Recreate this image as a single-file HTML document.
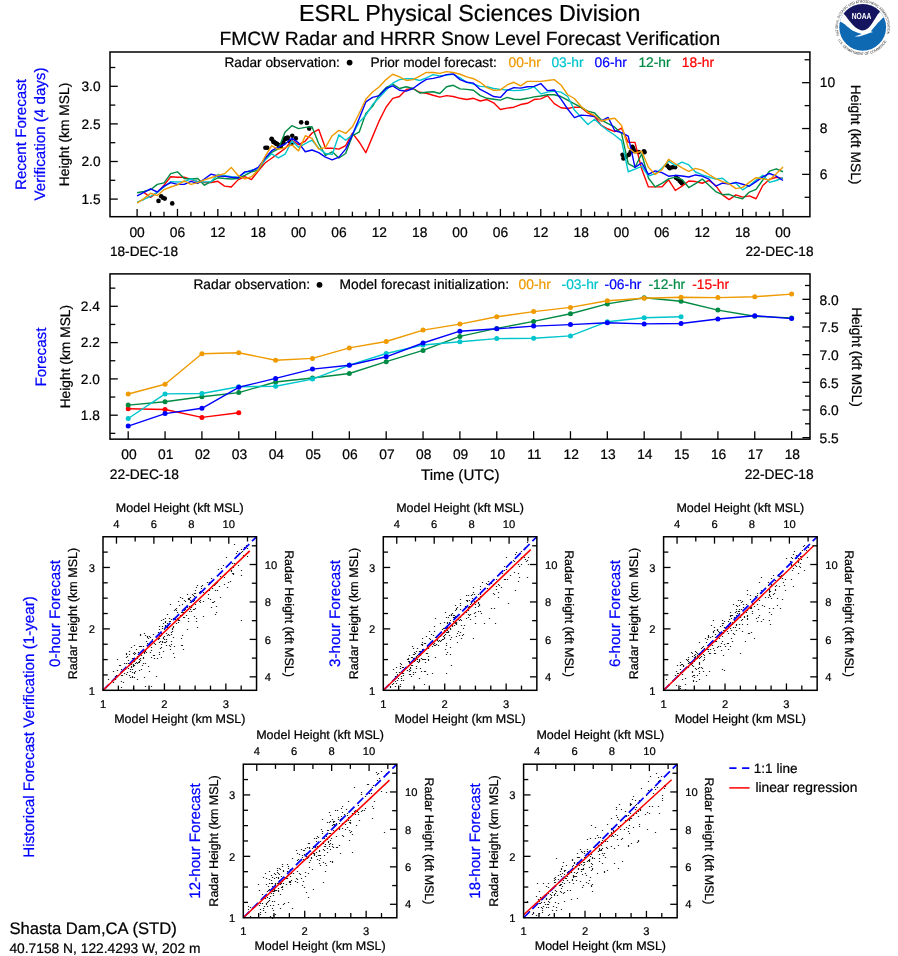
<!DOCTYPE html>
<html lang="en"><head><meta charset="utf-8"><title>FMCW Radar and HRRR Snow Level Forecast Verification</title>
<style>
html,body{margin:0;padding:0;background:#fff;}
svg{display:block;font-family:"Liberation Sans", Arial, Helvetica, sans-serif;will-change:transform;text-rendering:geometricPrecision;}
</style></head><body>
<svg width="898" height="956" viewBox="0 0 898 956">
<rect width="898" height="956" fill="#fff"/>
<text x="469.7" y="20.7" font-size="23.25" text-anchor="middle" fill="#000" stroke="#000" stroke-width="0.22">ESRL Physical Sciences Division</text>
<text x="469.9" y="44.5" font-size="19.25" text-anchor="middle" fill="#000" stroke="#000" stroke-width="0.22">FMCW Radar and HRRR Snow Level Forecast Verification</text>
<g id="noaa">
<defs><clipPath id="lc"><circle cx="862.68" cy="27.28" r="23.4"/></clipPath>
<path id="arcTop" d="M 839.33 35.32 A 24.7 24.7 0 1 1 886.04 35.32" fill="none"/>
<path id="arcBot" d="M 838 39.86 A 27.7 27.7 0 0 0 887.37 39.86" fill="none"/>
</defs>
<circle cx="862.68" cy="27.28" r="23.4" fill="#0F68B2"/>
<g clip-path="url(#lc)">
<path d="M 835.79 20.27 C836.44 20.46 838.39 20.91 839.69 21.43C840.99 21.95 842.16 22.41 843.59 23.38C845.02 24.36 846.71 26.05 848.27 27.28C849.82 28.51 851.38 29.88 852.94 30.79C854.5 31.7 856.19 32.22 857.62 32.74C859.05 33.26 861.32 33.52 861.52 33.9C861.71 34.29 859.83 34.62 858.79 35.07C857.75 35.53 855.08 36.43 855.28 36.63C855.47 36.84 858.4 36.62 859.96 36.32C861.52 36.02 863.14 35.37 864.63 34.84C866.13 34.31 867.56 33.61 868.92 33.13C870.28 32.64 872.45 32.28 872.82 31.96C873.18 31.63 870.88 31.96 871.1 31.18C871.32 30.4 873.1 28.58 874.14 27.28C875.18 25.98 876.23 24.62 877.34 23.38C878.44 22.15 879.7 20.85 880.77 19.88C881.83 18.9 882.39 18.38 883.73 17.54C885.07 16.69 887.95 15.26 888.8 14.81 L 892.68 -2.72 L 832.68 -2.72 Z" fill="#fff"/>
<path d="M 839.69 11.69 C840.41 12.08 842.55 12.73 843.98 14.03C845.41 15.33 846.77 17.67 848.27 19.49C849.76 21.3 851.38 23.38 852.94 24.94C854.5 26.5 856.06 27.93 857.62 28.84C859.18 29.75 860.61 30.46 862.29 30.4C863.98 30.33 866 29.81 867.75 28.45C869.5 27.08 871.32 24.29 872.82 22.21C874.31 20.14 875.54 17.67 876.71 15.98C877.88 14.29 878.6 13.45 879.83 12.08C881.07 10.72 883.4 8.51 884.12 7.79 L 892.68 -2.72 L 832.68 -2.72 Z" fill="#15145E"/>
</g>
<text x="861.52" y="19.1" font-size="8.8" font-weight="bold" text-anchor="middle" fill="#fff" textLength="19.6" lengthAdjust="spacingAndGlyphs">NOAA</text>
<text font-size="3.7" fill="#2a2a2a" textLength="92" lengthAdjust="spacingAndGlyphs"><textPath href="#arcTop" textLength="92" lengthAdjust="spacingAndGlyphs">NATIONAL OCEANIC AND ATMOSPHERIC ADMINISTRATION</textPath></text>
<text font-size="3.7" fill="#2a2a2a" textLength="59" lengthAdjust="spacingAndGlyphs"><textPath href="#arcBot" textLength="59" lengthAdjust="spacingAndGlyphs">U.S. DEPARTMENT OF COMMERCE</textPath></text>
</g>
<g id="chart1">
<rect x="110" y="52" width="699.9" height="164.7" fill="none" stroke="#000" stroke-width="1.5"/>
<line x1="110" y1="199.1" x2="117.8" y2="199.1" stroke="#000" stroke-width="1.3"/>
<text x="100.5" y="203.8" font-size="13.7" text-anchor="end" fill="#000" stroke="#000" stroke-width="0.22">1.5</text>
<line x1="110" y1="180.3" x2="115.3" y2="180.3" stroke="#000" stroke-width="1.3"/>
<line x1="110" y1="161.5" x2="117.8" y2="161.5" stroke="#000" stroke-width="1.3"/>
<text x="100.5" y="166.2" font-size="13.7" text-anchor="end" fill="#000" stroke="#000" stroke-width="0.22">2.0</text>
<line x1="110" y1="142.7" x2="115.3" y2="142.7" stroke="#000" stroke-width="1.3"/>
<line x1="110" y1="123.9" x2="117.8" y2="123.9" stroke="#000" stroke-width="1.3"/>
<text x="100.5" y="128.6" font-size="13.7" text-anchor="end" fill="#000" stroke="#000" stroke-width="0.22">2.5</text>
<line x1="110" y1="105.1" x2="115.3" y2="105.1" stroke="#000" stroke-width="1.3"/>
<line x1="110" y1="86.3" x2="117.8" y2="86.3" stroke="#000" stroke-width="1.3"/>
<text x="100.5" y="91" font-size="13.7" text-anchor="end" fill="#000" stroke="#000" stroke-width="0.22">3.0</text>
<line x1="110" y1="67.5" x2="115.3" y2="67.5" stroke="#000" stroke-width="1.3"/>
<line x1="809.9" y1="197.3" x2="804.6" y2="197.3" stroke="#000" stroke-width="1.3"/>
<line x1="809.9" y1="174.37" x2="802.1" y2="174.37" stroke="#000" stroke-width="1.3"/>
<text x="819.8" y="178.97" font-size="13.8" text-anchor="start" fill="#000" stroke="#000" stroke-width="0.22">6</text>
<line x1="809.9" y1="151.45" x2="804.6" y2="151.45" stroke="#000" stroke-width="1.3"/>
<line x1="809.9" y1="128.53" x2="802.1" y2="128.53" stroke="#000" stroke-width="1.3"/>
<text x="819.8" y="133.13" font-size="13.8" text-anchor="start" fill="#000" stroke="#000" stroke-width="0.22">8</text>
<line x1="809.9" y1="105.61" x2="804.6" y2="105.61" stroke="#000" stroke-width="1.3"/>
<line x1="809.9" y1="82.69" x2="802.1" y2="82.69" stroke="#000" stroke-width="1.3"/>
<text x="819.8" y="87.29" font-size="13.8" text-anchor="start" fill="#000" stroke="#000" stroke-width="0.22">10</text>
<line x1="809.9" y1="59.77" x2="804.6" y2="59.77" stroke="#000" stroke-width="1.3"/>
<line x1="137.1" y1="216.7" x2="137.1" y2="208.9" stroke="#000" stroke-width="1.3"/>
<text x="137.1" y="236.9" font-size="13.8" text-anchor="middle" fill="#000" stroke="#000" stroke-width="0.22">00</text>
<line x1="150.56" y1="216.7" x2="150.56" y2="211.7" stroke="#000" stroke-width="1.3"/>
<line x1="164.01" y1="216.7" x2="164.01" y2="211.7" stroke="#000" stroke-width="1.3"/>
<line x1="177.47" y1="216.7" x2="177.47" y2="208.9" stroke="#000" stroke-width="1.3"/>
<text x="177.47" y="236.9" font-size="13.8" text-anchor="middle" fill="#000" stroke="#000" stroke-width="0.22">06</text>
<line x1="190.92" y1="216.7" x2="190.92" y2="211.7" stroke="#000" stroke-width="1.3"/>
<line x1="204.38" y1="216.7" x2="204.38" y2="211.7" stroke="#000" stroke-width="1.3"/>
<line x1="217.84" y1="216.7" x2="217.84" y2="208.9" stroke="#000" stroke-width="1.3"/>
<text x="217.84" y="236.9" font-size="13.8" text-anchor="middle" fill="#000" stroke="#000" stroke-width="0.22">12</text>
<line x1="231.29" y1="216.7" x2="231.29" y2="211.7" stroke="#000" stroke-width="1.3"/>
<line x1="244.75" y1="216.7" x2="244.75" y2="211.7" stroke="#000" stroke-width="1.3"/>
<line x1="258.2" y1="216.7" x2="258.2" y2="208.9" stroke="#000" stroke-width="1.3"/>
<text x="258.2" y="236.9" font-size="13.8" text-anchor="middle" fill="#000" stroke="#000" stroke-width="0.22">18</text>
<line x1="271.66" y1="216.7" x2="271.66" y2="211.7" stroke="#000" stroke-width="1.3"/>
<line x1="285.12" y1="216.7" x2="285.12" y2="211.7" stroke="#000" stroke-width="1.3"/>
<line x1="298.57" y1="216.7" x2="298.57" y2="208.9" stroke="#000" stroke-width="1.3"/>
<text x="298.57" y="236.9" font-size="13.8" text-anchor="middle" fill="#000" stroke="#000" stroke-width="0.22">00</text>
<line x1="312.03" y1="216.7" x2="312.03" y2="211.7" stroke="#000" stroke-width="1.3"/>
<line x1="325.48" y1="216.7" x2="325.48" y2="211.7" stroke="#000" stroke-width="1.3"/>
<line x1="338.94" y1="216.7" x2="338.94" y2="208.9" stroke="#000" stroke-width="1.3"/>
<text x="338.94" y="236.9" font-size="13.8" text-anchor="middle" fill="#000" stroke="#000" stroke-width="0.22">06</text>
<line x1="352.4" y1="216.7" x2="352.4" y2="211.7" stroke="#000" stroke-width="1.3"/>
<line x1="365.85" y1="216.7" x2="365.85" y2="211.7" stroke="#000" stroke-width="1.3"/>
<line x1="379.31" y1="216.7" x2="379.31" y2="208.9" stroke="#000" stroke-width="1.3"/>
<text x="379.31" y="236.9" font-size="13.8" text-anchor="middle" fill="#000" stroke="#000" stroke-width="0.22">12</text>
<line x1="392.76" y1="216.7" x2="392.76" y2="211.7" stroke="#000" stroke-width="1.3"/>
<line x1="406.22" y1="216.7" x2="406.22" y2="211.7" stroke="#000" stroke-width="1.3"/>
<line x1="419.68" y1="216.7" x2="419.68" y2="208.9" stroke="#000" stroke-width="1.3"/>
<text x="419.68" y="236.9" font-size="13.8" text-anchor="middle" fill="#000" stroke="#000" stroke-width="0.22">18</text>
<line x1="433.13" y1="216.7" x2="433.13" y2="211.7" stroke="#000" stroke-width="1.3"/>
<line x1="446.59" y1="216.7" x2="446.59" y2="211.7" stroke="#000" stroke-width="1.3"/>
<line x1="460.04" y1="216.7" x2="460.04" y2="208.9" stroke="#000" stroke-width="1.3"/>
<text x="460.04" y="236.9" font-size="13.8" text-anchor="middle" fill="#000" stroke="#000" stroke-width="0.22">00</text>
<line x1="473.5" y1="216.7" x2="473.5" y2="211.7" stroke="#000" stroke-width="1.3"/>
<line x1="486.96" y1="216.7" x2="486.96" y2="211.7" stroke="#000" stroke-width="1.3"/>
<line x1="500.41" y1="216.7" x2="500.41" y2="208.9" stroke="#000" stroke-width="1.3"/>
<text x="500.41" y="236.9" font-size="13.8" text-anchor="middle" fill="#000" stroke="#000" stroke-width="0.22">06</text>
<line x1="513.87" y1="216.7" x2="513.87" y2="211.7" stroke="#000" stroke-width="1.3"/>
<line x1="527.32" y1="216.7" x2="527.32" y2="211.7" stroke="#000" stroke-width="1.3"/>
<line x1="540.78" y1="216.7" x2="540.78" y2="208.9" stroke="#000" stroke-width="1.3"/>
<text x="540.78" y="236.9" font-size="13.8" text-anchor="middle" fill="#000" stroke="#000" stroke-width="0.22">12</text>
<line x1="554.24" y1="216.7" x2="554.24" y2="211.7" stroke="#000" stroke-width="1.3"/>
<line x1="567.69" y1="216.7" x2="567.69" y2="211.7" stroke="#000" stroke-width="1.3"/>
<line x1="581.15" y1="216.7" x2="581.15" y2="208.9" stroke="#000" stroke-width="1.3"/>
<text x="581.15" y="236.9" font-size="13.8" text-anchor="middle" fill="#000" stroke="#000" stroke-width="0.22">18</text>
<line x1="594.6" y1="216.7" x2="594.6" y2="211.7" stroke="#000" stroke-width="1.3"/>
<line x1="608.06" y1="216.7" x2="608.06" y2="211.7" stroke="#000" stroke-width="1.3"/>
<line x1="621.52" y1="216.7" x2="621.52" y2="208.9" stroke="#000" stroke-width="1.3"/>
<text x="621.52" y="236.9" font-size="13.8" text-anchor="middle" fill="#000" stroke="#000" stroke-width="0.22">00</text>
<line x1="634.97" y1="216.7" x2="634.97" y2="211.7" stroke="#000" stroke-width="1.3"/>
<line x1="648.43" y1="216.7" x2="648.43" y2="211.7" stroke="#000" stroke-width="1.3"/>
<line x1="661.88" y1="216.7" x2="661.88" y2="208.9" stroke="#000" stroke-width="1.3"/>
<text x="661.88" y="236.9" font-size="13.8" text-anchor="middle" fill="#000" stroke="#000" stroke-width="0.22">06</text>
<line x1="675.34" y1="216.7" x2="675.34" y2="211.7" stroke="#000" stroke-width="1.3"/>
<line x1="688.8" y1="216.7" x2="688.8" y2="211.7" stroke="#000" stroke-width="1.3"/>
<line x1="702.25" y1="216.7" x2="702.25" y2="208.9" stroke="#000" stroke-width="1.3"/>
<text x="702.25" y="236.9" font-size="13.8" text-anchor="middle" fill="#000" stroke="#000" stroke-width="0.22">12</text>
<line x1="715.71" y1="216.7" x2="715.71" y2="211.7" stroke="#000" stroke-width="1.3"/>
<line x1="729.16" y1="216.7" x2="729.16" y2="211.7" stroke="#000" stroke-width="1.3"/>
<line x1="742.62" y1="216.7" x2="742.62" y2="208.9" stroke="#000" stroke-width="1.3"/>
<text x="742.62" y="236.9" font-size="13.8" text-anchor="middle" fill="#000" stroke="#000" stroke-width="0.22">18</text>
<line x1="756.08" y1="216.7" x2="756.08" y2="211.7" stroke="#000" stroke-width="1.3"/>
<line x1="769.53" y1="216.7" x2="769.53" y2="211.7" stroke="#000" stroke-width="1.3"/>
<line x1="782.99" y1="216.7" x2="782.99" y2="208.9" stroke="#000" stroke-width="1.3"/>
<text x="782.99" y="236.9" font-size="13.8" text-anchor="middle" fill="#000" stroke="#000" stroke-width="0.22">00</text>
<text x="110" y="256.4" font-size="13.6" text-anchor="start" fill="#000" stroke="#000" stroke-width="0.22">18-DEC-18</text>
<text x="813.5" y="256.4" font-size="13.6" text-anchor="end" fill="#000" stroke="#000" stroke-width="0.22">22-DEC-18</text>
<text x="224.5" y="66.9" font-size="13.65" text-anchor="start" fill="#000" stroke="#000" stroke-width="0.22">Radar observation:</text>
<circle cx="349.6" cy="62.6" r="2.9" fill="#000"/>
<text x="370.5" y="66.9" font-size="13.7" text-anchor="start" fill="#000" stroke="#000" stroke-width="0.22">Prior model forecast:</text>
<text x="508.6" y="66.9" font-size="13.8" text-anchor="start" fill="#EE9A00" stroke="#EE9A00" stroke-width="0.22">00-hr</text>
<text x="551.4" y="66.9" font-size="13.8" text-anchor="start" fill="#00C5CD" stroke="#00C5CD" stroke-width="0.22">03-hr</text>
<text x="594.6" y="66.9" font-size="13.8" text-anchor="start" fill="#0000FF" stroke="#0000FF" stroke-width="0.22">06-hr</text>
<text x="638.4" y="66.9" font-size="13.8" text-anchor="start" fill="#008B45" stroke="#008B45" stroke-width="0.22">12-hr</text>
<text x="681.8" y="66.9" font-size="13.8" text-anchor="start" fill="#FF0000" stroke="#FF0000" stroke-width="0.22">18-hr</text>
<text x="25.9" y="134.5" font-size="15.15" text-anchor="middle" fill="#0000FF" stroke="#0000FF" stroke-width="0.22" transform="rotate(-90 25.9 134.5)">Recent Forecast</text>
<text x="45.4" y="134" font-size="15.15" text-anchor="middle" fill="#0000FF" stroke="#0000FF" stroke-width="0.22" transform="rotate(-90 45.4 134)">Verification (4 days)</text>
<text x="68.6" y="134.5" font-size="13.8" text-anchor="middle" fill="#000" stroke="#000" stroke-width="0.22" transform="rotate(-90 68.6 134.5)">Height (km MSL)</text>
<text x="851.3" y="134.6" font-size="13.8" text-anchor="middle" fill="#000" stroke="#000" stroke-width="0.22" transform="rotate(90 851.3 134.6)">Height (kft MSL)</text>
<clipPath id="c1"><rect x="110" y="52" width="699.9" height="164.7"/></clipPath>
<g clip-path="url(#c1)">
<circle cx="158.51" cy="200.91" r="2.3" fill="#000"/>
<circle cx="161.18" cy="196.28" r="2.3" fill="#000"/>
<circle cx="162.96" cy="197.71" r="2.3" fill="#000"/>
<circle cx="164.74" cy="198.6" r="2.3" fill="#000"/>
<circle cx="172.23" cy="203.41" r="2.3" fill="#000"/>
<circle cx="265.41" cy="147.82" r="2.3" fill="#000"/>
<circle cx="267.19" cy="147.82" r="2.3" fill="#000"/>
<circle cx="271.65" cy="138.91" r="2.3" fill="#000"/>
<circle cx="273.43" cy="141.58" r="2.3" fill="#000"/>
<circle cx="275.21" cy="142.83" r="2.3" fill="#000"/>
<circle cx="276.99" cy="143.9" r="2.3" fill="#000"/>
<circle cx="278.78" cy="145.14" r="2.3" fill="#000"/>
<circle cx="280.56" cy="146.04" r="2.3" fill="#000"/>
<circle cx="283.23" cy="143.36" r="2.3" fill="#000"/>
<circle cx="285.01" cy="138.91" r="2.3" fill="#000"/>
<circle cx="286.79" cy="138.02" r="2.3" fill="#000"/>
<circle cx="271.78" cy="139.29" r="2.3" fill="#000"/>
<circle cx="273.56" cy="141.96" r="2.3" fill="#000"/>
<circle cx="276.24" cy="143.74" r="2.3" fill="#000"/>
<circle cx="278.91" cy="145.52" r="2.3" fill="#000"/>
<circle cx="280.69" cy="146.41" r="2.3" fill="#000"/>
<circle cx="283.36" cy="141.96" r="2.3" fill="#000"/>
<circle cx="286.04" cy="138.4" r="2.3" fill="#000"/>
<circle cx="287.82" cy="137.51" r="2.3" fill="#000"/>
<circle cx="289.6" cy="141.07" r="2.3" fill="#000"/>
<circle cx="291.38" cy="143.74" r="2.3" fill="#000"/>
<circle cx="292.27" cy="135.72" r="2.3" fill="#000"/>
<circle cx="295.84" cy="138.4" r="2.3" fill="#000"/>
<circle cx="301.18" cy="122.36" r="2.3" fill="#000"/>
<circle cx="306.88" cy="122.9" r="2.3" fill="#000"/>
<circle cx="309.2" cy="128.6" r="2.3" fill="#000"/>
<circle cx="622.56" cy="154.83" r="2.3" fill="#000"/>
<circle cx="623.45" cy="158.4" r="2.3" fill="#000"/>
<circle cx="626.12" cy="156.61" r="2.3" fill="#000"/>
<circle cx="628.8" cy="154.83" r="2.3" fill="#000"/>
<circle cx="630.58" cy="152.16" r="2.3" fill="#000"/>
<circle cx="632.36" cy="146.82" r="2.3" fill="#000"/>
<circle cx="633.25" cy="148.6" r="2.3" fill="#000"/>
<circle cx="635.03" cy="151.27" r="2.3" fill="#000"/>
<circle cx="638.6" cy="152.16" r="2.3" fill="#000"/>
<circle cx="643.94" cy="151.27" r="2.3" fill="#000"/>
<circle cx="644.48" cy="152.16" r="2.3" fill="#000"/>
<circle cx="667.1" cy="165.52" r="2.3" fill="#000"/>
<circle cx="668.89" cy="167.31" r="2.3" fill="#000"/>
<circle cx="669.78" cy="168.2" r="2.3" fill="#000"/>
<circle cx="672.45" cy="167.31" r="2.3" fill="#000"/>
<circle cx="675.12" cy="167.31" r="2.3" fill="#000"/>
<circle cx="676.01" cy="177.64" r="2.3" fill="#000"/>
<circle cx="677.8" cy="178.89" r="2.3" fill="#000"/>
<circle cx="679.58" cy="180.67" r="2.3" fill="#000"/>
<circle cx="680.82" cy="181.92" r="2.3" fill="#000"/>
<circle cx="681.89" cy="183.34" r="2.3" fill="#000"/>
<polyline fill="none" stroke="#FF0000" stroke-width="1.4" stroke-linejoin="round" points="143.83,192.36 150.56,197.35 157.28,192.36 164.01,185.23 170.74,176.68 177.47,177.22 184.2,177.22 190.92,179.53 197.65,181.67 204.38,182.56 211.11,182.56 217.84,181.31 224.56,186.12 231.29,187.02 238.02,179.89 244.75,176.68 251.48,179.53 258.2,170.98 264.93,162.96 271.66,158.25 278.39,153.35 285.12,148.45 291.84,140.43 298.57,144.63 305.3,141.07 312.03,133.05 318.76,129.49 325.48,148.2 332.21,148.2 338.94,149.09 345.67,145.52 352.4,133.05 359.12,141.96 365.85,152.65 372.58,136.61 379.31,120.58 386.04,107.22 392.76,98.31 399.49,96.53 406.22,89.4 412.95,88.51 419.68,92.25 426.4,93.23 433.13,95.28 439.86,97.06 446.59,95.63 453.32,96.53 460.04,98.31 466.77,99.55 473.5,98.31 480.23,100.98 486.96,99.55 493.68,102.76 500.41,109.53 507.14,108.11 513.87,107.22 520.6,104.54 527.32,103.3 534.05,99.55 540.78,98.84 547.51,95.63 554.24,103.65 560.96,107.75 567.69,108.46 574.42,107.15 581.15,107.42 587.88,112.96 594.6,116.53 601.33,125.43 608.06,129 614.79,131.67 621.52,128.11 628.24,142.36 634.97,142.36 641.7,169.09 648.43,186.9 655.16,186.9 661.88,186.9 668.61,179.78 675.34,190.47 682.07,186.08 688.8,181 695.52,181.57 702.25,183.24 708.98,180.35 715.71,185.57 722.44,194.93 729.16,199.62 735.89,194.84 742.62,197.17 749.35,195.93 756.08,198.73 762.8,185.48 769.53,179.25 776.26,177.37 782.99,178.47"/>
<polyline fill="none" stroke="#008B45" stroke-width="1.4" stroke-linejoin="round" points="137.1,192.72 143.83,191.47 150.56,189.69 157.28,184.34 164.01,182.92 170.74,173.65 177.47,171.87 184.2,178.46 190.92,179 197.65,178.46 204.38,185.23 211.11,181.67 217.84,177.75 224.56,178.46 231.29,179 238.02,178.46 244.75,175.43 251.48,171.87 258.2,170.09 264.93,159.4 271.66,152.46 278.39,148.9 285.12,131.97 291.84,125.73 298.57,128.6 305.3,127.35 312.03,126.82 318.76,143.74 325.48,155.32 332.21,151.76 338.94,158 345.67,153.54 352.4,135.72 359.12,132.16 365.85,113.45 372.58,106.33 379.31,94.74 386.04,87.62 392.76,84.05 399.49,88.51 406.22,86.73 412.95,88.51 419.68,92.96 426.4,92.25 433.13,91.71 439.86,93.5 446.59,86.73 453.32,85.3 460.04,88.86 466.77,89.4 473.5,90.29 480.23,95.63 486.96,98.31 493.68,99.2 500.41,100.09 507.14,97.42 513.87,99.2 520.6,99.55 527.32,98.31 534.05,96.88 540.78,95.99 547.51,94.74 554.24,94.74 560.96,96.53 567.69,100.09 574.42,103.85 581.15,107.42 587.88,111.18 594.6,112.96 601.33,120.09 608.06,123.65 614.79,127.22 621.52,133.45 628.24,163.74 634.97,167.31 641.7,153.94 648.43,178 655.16,186.9 661.88,183.34 668.61,178.89 675.34,177.1 682.07,179.57 688.8,187.57 695.52,183.63 702.25,179.07 708.98,185.3 715.71,191.54 722.44,194.72 729.16,194.28 735.89,197.17 742.62,198.73 749.35,192.03 756.08,189.38 762.8,180.02 769.53,171.14 776.26,168.8 782.99,171.76"/>
<polyline fill="none" stroke="#00C5CD" stroke-width="1.4" stroke-linejoin="round" points="137.1,202.16 143.83,199.49 150.56,196.28 157.28,192.36 164.01,187.02 170.74,181.67 177.47,182.03 184.2,181.67 190.92,179 197.65,181.67 204.38,182.03 211.11,181.67 217.84,174.54 224.56,175.43 231.29,176.68 238.02,177.22 244.75,172.76 251.48,170.09 258.2,168.84 264.93,160.29 271.66,153.8 278.39,157.81 285.12,154.24 291.84,140.88 298.57,147.31 305.3,143.74 312.03,140.18 318.76,148.2 325.48,153.54 332.21,154.43 338.94,134.83 345.67,140.18 352.4,134.83 359.12,122.36 365.85,115.23 372.58,104.54 379.31,97.42 386.04,90.29 392.76,83.16 399.49,79.6 406.22,78.71 412.95,78.71 419.68,80.49 426.4,77.82 433.13,74.61 439.86,76.04 446.59,75.14 453.32,74.25 460.04,77.82 466.77,82.27 473.5,84.05 480.23,86.37 486.96,86.73 493.68,88.51 500.41,89.4 507.14,89.93 513.87,90.65 520.6,90.29 527.32,89.4 534.05,86.73 540.78,93.85 547.51,92.07 554.24,91.18 560.96,92.07 567.69,96.53 574.42,110.09 581.15,117.22 587.88,124.54 594.6,119.2 601.33,125.43 608.06,130.78 614.79,135.23 621.52,140.58 628.24,171.76 634.97,169.09 641.7,166.41 648.43,176.21 655.16,173.54 661.88,168.2 668.61,161.07 675.34,165.52 682.07,162.03 688.8,164.92 695.52,171.99 702.25,174.89 708.98,177.01 715.71,179.07 722.44,178.23 729.16,183.63 735.89,183.14 742.62,189.85 749.35,185.48 756.08,180.02 762.8,175.35 769.53,182.36 776.26,180.49 782.99,177.69"/>
<polyline fill="none" stroke="#0000FF" stroke-width="1.4" stroke-linejoin="round" points="137.1,195.92 143.83,192.36 150.56,188.8 157.28,192 164.01,186.12 170.74,182.56 177.47,184.34 184.2,184.34 190.92,181.31 197.65,183.45 204.38,179 211.11,174.19 217.84,175.97 224.56,176.33 231.29,177.22 238.02,177.75 244.75,171.87 251.48,170.98 258.2,167.42 264.93,158.51 271.66,150.68 278.39,147.12 285.12,144 291.84,138.21 298.57,142.85 305.3,151.76 312.03,149.98 318.76,152.65 325.48,157.1 332.21,159.78 338.94,157.1 345.67,149.09 352.4,134.83 359.12,118.8 365.85,101.87 372.58,97.42 379.31,95.63 386.04,88.51 392.76,85.84 399.49,90.29 406.22,91.18 412.95,88.51 419.68,83.61 426.4,79.42 433.13,78.35 439.86,76.93 446.59,74.61 453.32,73.9 460.04,79.6 466.77,82.27 473.5,83.16 480.23,89.4 486.96,92.96 493.68,96.53 500.41,97.42 507.14,90.29 513.87,87.62 520.6,88.15 527.32,86.73 534.05,86.37 540.78,83.52 547.51,90.65 554.24,89.93 560.96,99.2 567.69,109 574.42,117.66 581.15,115.17 587.88,115.63 594.6,116.53 601.33,120.98 608.06,117.42 614.79,130.78 621.52,132.56 628.24,136.12 634.97,167.31 641.7,162.85 648.43,174.43 655.16,170.87 661.88,172.65 668.61,176.21 675.34,175.32 682.07,176.01 688.8,177.01 695.52,174.95 702.25,176.17 708.98,179.12 715.71,186.14 722.44,183.06 729.16,184.08 735.89,182.36 742.62,184.23 749.35,186.26 756.08,181.58 762.8,176.91 769.53,173.48 776.26,176.13 782.99,180.49"/>
<polyline fill="none" stroke="#EE9A00" stroke-width="1.4" stroke-linejoin="round" points="137.1,203.05 143.83,198.6 150.56,193.25 157.28,195.57 164.01,189.69 170.74,187.02 177.47,184.88 184.2,180.78 190.92,184.34 197.65,182.56 204.38,179.89 211.11,177.75 217.84,175.43 224.56,173.65 231.29,167.42 238.02,175.43 244.75,179 251.48,176.68 258.2,170.09 264.93,156.73 271.66,145.78 278.39,149.34 285.12,147.56 291.84,144.89 298.57,150.87 305.3,135.72 312.03,138.4 318.76,149.09 325.48,147.31 332.21,135.72 338.94,130.38 345.67,133.41 352.4,126.82 359.12,113.45 365.85,99.2 372.58,92.07 379.31,86.73 386.04,79.6 392.76,74.25 399.49,76.93 406.22,80.49 412.95,79.6 419.68,76.04 426.4,72.47 433.13,72.47 439.86,73.36 446.59,71.58 453.32,72.47 460.04,74.25 466.77,76.93 473.5,78.71 480.23,82.27 486.96,87.62 493.68,90.29 500.41,89.93 507.14,84.94 513.87,82.27 520.6,85.84 527.32,81.38 534.05,81.38 540.78,81.38 547.51,80.49 554.24,79.6 560.96,84.94 567.69,94.74 574.42,98.51 581.15,106.53 587.88,112.07 594.6,115.63 601.33,120.98 608.06,119.2 614.79,118.31 621.52,125.43 628.24,147.71 634.97,153.05 641.7,151.27 648.43,167.31 655.16,174.43 661.88,169.98 668.61,159.29 675.34,163.74 682.07,167.87 688.8,171.45 695.52,168.42 702.25,170.09 708.98,174.5 715.71,178.68 722.44,181.57 729.16,183.92 735.89,188.6 742.62,187.35 749.35,182.36 756.08,177.69 762.8,178.93 769.53,180.02 776.26,173.79 782.99,167.08"/>
</g>
</g>
<g id="chart2">
<rect x="110" y="273.9" width="700" height="165.25" fill="none" stroke="#000" stroke-width="1.5"/>
<line x1="110" y1="433.35" x2="115.3" y2="433.35" stroke="#000" stroke-width="1.3"/>
<line x1="110" y1="415.2" x2="117.8" y2="415.2" stroke="#000" stroke-width="1.3"/>
<text x="99.9" y="419.8" font-size="13.7" text-anchor="end" fill="#000" stroke="#000" stroke-width="0.22">1.8</text>
<line x1="110" y1="397.05" x2="115.3" y2="397.05" stroke="#000" stroke-width="1.3"/>
<line x1="110" y1="378.9" x2="117.8" y2="378.9" stroke="#000" stroke-width="1.3"/>
<text x="99.9" y="383.5" font-size="13.7" text-anchor="end" fill="#000" stroke="#000" stroke-width="0.22">2.0</text>
<line x1="110" y1="360.75" x2="115.3" y2="360.75" stroke="#000" stroke-width="1.3"/>
<line x1="110" y1="342.6" x2="117.8" y2="342.6" stroke="#000" stroke-width="1.3"/>
<text x="99.9" y="347.2" font-size="13.7" text-anchor="end" fill="#000" stroke="#000" stroke-width="0.22">2.2</text>
<line x1="110" y1="324.45" x2="115.3" y2="324.45" stroke="#000" stroke-width="1.3"/>
<line x1="110" y1="306.3" x2="117.8" y2="306.3" stroke="#000" stroke-width="1.3"/>
<text x="99.9" y="310.9" font-size="13.7" text-anchor="end" fill="#000" stroke="#000" stroke-width="0.22">2.4</text>
<line x1="110" y1="288.15" x2="115.3" y2="288.15" stroke="#000" stroke-width="1.3"/>
<line x1="810" y1="437.63" x2="802.4" y2="437.63" stroke="#000" stroke-width="1.3"/>
<text x="819.6" y="443.03" font-size="13.8" text-anchor="start" fill="#000" stroke="#000" stroke-width="0.22">5.5</text>
<line x1="810" y1="423.8" x2="805" y2="423.8" stroke="#000" stroke-width="1.3"/>
<line x1="810" y1="409.97" x2="802.4" y2="409.97" stroke="#000" stroke-width="1.3"/>
<text x="819.6" y="415.37" font-size="13.8" text-anchor="start" fill="#000" stroke="#000" stroke-width="0.22">6.0</text>
<line x1="810" y1="396.14" x2="805" y2="396.14" stroke="#000" stroke-width="1.3"/>
<line x1="810" y1="382.31" x2="802.4" y2="382.31" stroke="#000" stroke-width="1.3"/>
<text x="819.6" y="387.71" font-size="13.8" text-anchor="start" fill="#000" stroke="#000" stroke-width="0.22">6.5</text>
<line x1="810" y1="368.48" x2="805" y2="368.48" stroke="#000" stroke-width="1.3"/>
<line x1="810" y1="354.65" x2="802.4" y2="354.65" stroke="#000" stroke-width="1.3"/>
<text x="819.6" y="360.05" font-size="13.8" text-anchor="start" fill="#000" stroke="#000" stroke-width="0.22">7.0</text>
<line x1="810" y1="340.82" x2="805" y2="340.82" stroke="#000" stroke-width="1.3"/>
<line x1="810" y1="326.99" x2="802.4" y2="326.99" stroke="#000" stroke-width="1.3"/>
<text x="819.6" y="332.39" font-size="13.8" text-anchor="start" fill="#000" stroke="#000" stroke-width="0.22">7.5</text>
<line x1="810" y1="313.16" x2="805" y2="313.16" stroke="#000" stroke-width="1.3"/>
<line x1="810" y1="299.33" x2="802.4" y2="299.33" stroke="#000" stroke-width="1.3"/>
<text x="819.6" y="304.73" font-size="13.8" text-anchor="start" fill="#000" stroke="#000" stroke-width="0.22">8.0</text>
<line x1="810" y1="285.5" x2="805" y2="285.5" stroke="#000" stroke-width="1.3"/>
<line x1="128.2" y1="439.15" x2="128.2" y2="431.15" stroke="#000" stroke-width="1.3"/>
<text x="128.9" y="459.1" font-size="13.8" text-anchor="middle" fill="#000" stroke="#000" stroke-width="0.22">00</text>
<line x1="165.06" y1="439.15" x2="165.06" y2="431.15" stroke="#000" stroke-width="1.3"/>
<text x="165.76" y="459.1" font-size="13.8" text-anchor="middle" fill="#000" stroke="#000" stroke-width="0.22">01</text>
<line x1="201.91" y1="439.15" x2="201.91" y2="431.15" stroke="#000" stroke-width="1.3"/>
<text x="202.61" y="459.1" font-size="13.8" text-anchor="middle" fill="#000" stroke="#000" stroke-width="0.22">02</text>
<line x1="238.77" y1="439.15" x2="238.77" y2="431.15" stroke="#000" stroke-width="1.3"/>
<text x="239.47" y="459.1" font-size="13.8" text-anchor="middle" fill="#000" stroke="#000" stroke-width="0.22">03</text>
<line x1="275.62" y1="439.15" x2="275.62" y2="431.15" stroke="#000" stroke-width="1.3"/>
<text x="276.32" y="459.1" font-size="13.8" text-anchor="middle" fill="#000" stroke="#000" stroke-width="0.22">04</text>
<line x1="312.48" y1="439.15" x2="312.48" y2="431.15" stroke="#000" stroke-width="1.3"/>
<text x="313.18" y="459.1" font-size="13.8" text-anchor="middle" fill="#000" stroke="#000" stroke-width="0.22">05</text>
<line x1="349.34" y1="439.15" x2="349.34" y2="431.15" stroke="#000" stroke-width="1.3"/>
<text x="350.04" y="459.1" font-size="13.8" text-anchor="middle" fill="#000" stroke="#000" stroke-width="0.22">06</text>
<line x1="386.19" y1="439.15" x2="386.19" y2="431.15" stroke="#000" stroke-width="1.3"/>
<text x="386.89" y="459.1" font-size="13.8" text-anchor="middle" fill="#000" stroke="#000" stroke-width="0.22">07</text>
<line x1="423.05" y1="439.15" x2="423.05" y2="431.15" stroke="#000" stroke-width="1.3"/>
<text x="423.75" y="459.1" font-size="13.8" text-anchor="middle" fill="#000" stroke="#000" stroke-width="0.22">08</text>
<line x1="459.9" y1="439.15" x2="459.9" y2="431.15" stroke="#000" stroke-width="1.3"/>
<text x="460.6" y="459.1" font-size="13.8" text-anchor="middle" fill="#000" stroke="#000" stroke-width="0.22">09</text>
<line x1="496.76" y1="439.15" x2="496.76" y2="431.15" stroke="#000" stroke-width="1.3"/>
<text x="497.46" y="459.1" font-size="13.8" text-anchor="middle" fill="#000" stroke="#000" stroke-width="0.22">10</text>
<line x1="533.62" y1="439.15" x2="533.62" y2="431.15" stroke="#000" stroke-width="1.3"/>
<text x="534.32" y="459.1" font-size="13.8" text-anchor="middle" fill="#000" stroke="#000" stroke-width="0.22">11</text>
<line x1="570.47" y1="439.15" x2="570.47" y2="431.15" stroke="#000" stroke-width="1.3"/>
<text x="571.17" y="459.1" font-size="13.8" text-anchor="middle" fill="#000" stroke="#000" stroke-width="0.22">12</text>
<line x1="607.33" y1="439.15" x2="607.33" y2="431.15" stroke="#000" stroke-width="1.3"/>
<text x="608.03" y="459.1" font-size="13.8" text-anchor="middle" fill="#000" stroke="#000" stroke-width="0.22">13</text>
<line x1="644.18" y1="439.15" x2="644.18" y2="431.15" stroke="#000" stroke-width="1.3"/>
<text x="644.88" y="459.1" font-size="13.8" text-anchor="middle" fill="#000" stroke="#000" stroke-width="0.22">14</text>
<line x1="681.04" y1="439.15" x2="681.04" y2="431.15" stroke="#000" stroke-width="1.3"/>
<text x="681.74" y="459.1" font-size="13.8" text-anchor="middle" fill="#000" stroke="#000" stroke-width="0.22">15</text>
<line x1="717.9" y1="439.15" x2="717.9" y2="431.15" stroke="#000" stroke-width="1.3"/>
<text x="718.6" y="459.1" font-size="13.8" text-anchor="middle" fill="#000" stroke="#000" stroke-width="0.22">16</text>
<line x1="754.75" y1="439.15" x2="754.75" y2="431.15" stroke="#000" stroke-width="1.3"/>
<text x="755.45" y="459.1" font-size="13.8" text-anchor="middle" fill="#000" stroke="#000" stroke-width="0.22">17</text>
<line x1="791.61" y1="439.15" x2="791.61" y2="431.15" stroke="#000" stroke-width="1.3"/>
<text x="792.31" y="459.1" font-size="13.8" text-anchor="middle" fill="#000" stroke="#000" stroke-width="0.22">18</text>
<text x="109.8" y="479" font-size="13.8" text-anchor="start" fill="#000" stroke="#000" stroke-width="0.22">22-DEC-18</text>
<text x="813.7" y="479" font-size="13.8" text-anchor="end" fill="#000" stroke="#000" stroke-width="0.22">22-DEC-18</text>
<text x="460.3" y="479.6" font-size="15.15" text-anchor="middle" fill="#000" stroke="#000" stroke-width="0.22">Time (UTC)</text>
<text x="193.4" y="289" font-size="13.8" text-anchor="start" fill="#000" stroke="#000" stroke-width="0.22">Radar observation:</text>
<circle cx="319.5" cy="284.8" r="2.9" fill="#000"/>
<text x="339.5" y="289" font-size="13.8" text-anchor="start" fill="#000" stroke="#000" stroke-width="0.22">Model forecast initialization:</text>
<text x="518.6" y="289" font-size="13.8" text-anchor="start" fill="#EE9A00" stroke="#EE9A00" stroke-width="0.22">00-hr</text>
<text x="561.6" y="289" font-size="13.8" text-anchor="start" fill="#00C5CD" stroke="#00C5CD" stroke-width="0.22">-03-hr</text>
<text x="604.6" y="289" font-size="13.8" text-anchor="start" fill="#0000FF" stroke="#0000FF" stroke-width="0.22">-06-hr</text>
<text x="648.4" y="289" font-size="13.8" text-anchor="start" fill="#008B45" stroke="#008B45" stroke-width="0.22">-12-hr</text>
<text x="692.2" y="289" font-size="13.8" text-anchor="start" fill="#FF0000" stroke="#FF0000" stroke-width="0.22">-15-hr</text>
<text x="45.8" y="357.1" font-size="15.15" text-anchor="middle" fill="#0000FF" stroke="#0000FF" stroke-width="0.22" transform="rotate(-90 45.8 357.1)">Forecast</text>
<text x="69.7" y="356.6" font-size="13.8" text-anchor="middle" fill="#000" stroke="#000" stroke-width="0.22" transform="rotate(-90 69.7 356.6)">Height (km MSL)</text>
<text x="851.6" y="357" font-size="13.8" text-anchor="middle" fill="#000" stroke="#000" stroke-width="0.22" transform="rotate(90 851.6 357)">Height (kft MSL)</text>
<polyline fill="none" stroke="#FF0000" stroke-width="1.4" stroke-linejoin="round" points="128.2,408.7 165.06,409.5 201.91,417.4 238.77,412.8"/>
<circle cx="128.2" cy="408.7" r="2.5" fill="#FF0000"/>
<circle cx="165.06" cy="409.5" r="2.5" fill="#FF0000"/>
<circle cx="201.91" cy="417.4" r="2.5" fill="#FF0000"/>
<circle cx="238.77" cy="412.8" r="2.5" fill="#FF0000"/>
<polyline fill="none" stroke="#008B45" stroke-width="1.4" stroke-linejoin="round" points="128.2,405.1 165.06,401.7 201.91,396.7 238.77,392.6 275.62,382 312.48,378 349.34,373.5 386.19,361.7 423.05,350.4 459.9,336.4 496.76,328.4 533.62,321.4 570.47,313.7 607.33,303.9 644.18,297.8 681.04,301.2 717.9,310.1 754.75,316.3 791.61,317.9"/>
<circle cx="128.2" cy="405.1" r="2.5" fill="#008B45"/>
<circle cx="165.06" cy="401.7" r="2.5" fill="#008B45"/>
<circle cx="201.91" cy="396.7" r="2.5" fill="#008B45"/>
<circle cx="238.77" cy="392.6" r="2.5" fill="#008B45"/>
<circle cx="275.62" cy="382" r="2.5" fill="#008B45"/>
<circle cx="312.48" cy="378" r="2.5" fill="#008B45"/>
<circle cx="349.34" cy="373.5" r="2.5" fill="#008B45"/>
<circle cx="386.19" cy="361.7" r="2.5" fill="#008B45"/>
<circle cx="423.05" cy="350.4" r="2.5" fill="#008B45"/>
<circle cx="459.9" cy="336.4" r="2.5" fill="#008B45"/>
<circle cx="496.76" cy="328.4" r="2.5" fill="#008B45"/>
<circle cx="533.62" cy="321.4" r="2.5" fill="#008B45"/>
<circle cx="570.47" cy="313.7" r="2.5" fill="#008B45"/>
<circle cx="607.33" cy="303.9" r="2.5" fill="#008B45"/>
<circle cx="644.18" cy="297.8" r="2.5" fill="#008B45"/>
<circle cx="681.04" cy="301.2" r="2.5" fill="#008B45"/>
<circle cx="717.9" cy="310.1" r="2.5" fill="#008B45"/>
<circle cx="754.75" cy="316.3" r="2.5" fill="#008B45"/>
<circle cx="791.61" cy="317.9" r="2.5" fill="#008B45"/>
<polyline fill="none" stroke="#00C5CD" stroke-width="1.4" stroke-linejoin="round" points="128.2,418.5 165.06,393.9 201.91,393.5 238.77,386.7 275.62,386.2 312.48,379.1 349.34,365.1 386.19,353.5 423.05,345 459.9,341.7 496.76,338.6 533.62,338.2 570.47,335.9 607.33,321.7 644.18,317.7 681.04,316.8"/>
<circle cx="128.2" cy="418.5" r="2.5" fill="#00C5CD"/>
<circle cx="165.06" cy="393.9" r="2.5" fill="#00C5CD"/>
<circle cx="201.91" cy="393.5" r="2.5" fill="#00C5CD"/>
<circle cx="238.77" cy="386.7" r="2.5" fill="#00C5CD"/>
<circle cx="275.62" cy="386.2" r="2.5" fill="#00C5CD"/>
<circle cx="312.48" cy="379.1" r="2.5" fill="#00C5CD"/>
<circle cx="349.34" cy="365.1" r="2.5" fill="#00C5CD"/>
<circle cx="386.19" cy="353.5" r="2.5" fill="#00C5CD"/>
<circle cx="423.05" cy="345" r="2.5" fill="#00C5CD"/>
<circle cx="459.9" cy="341.7" r="2.5" fill="#00C5CD"/>
<circle cx="496.76" cy="338.6" r="2.5" fill="#00C5CD"/>
<circle cx="533.62" cy="338.2" r="2.5" fill="#00C5CD"/>
<circle cx="570.47" cy="335.9" r="2.5" fill="#00C5CD"/>
<circle cx="607.33" cy="321.7" r="2.5" fill="#00C5CD"/>
<circle cx="644.18" cy="317.7" r="2.5" fill="#00C5CD"/>
<circle cx="681.04" cy="316.8" r="2.5" fill="#00C5CD"/>
<polyline fill="none" stroke="#0000FF" stroke-width="1.4" stroke-linejoin="round" points="128.2,426.1 165.06,413.6 201.91,408.3 238.77,387.3 275.62,378.4 312.48,369.1 349.34,365.3 386.19,356.8 423.05,343 459.9,331.2 496.76,328.8 533.62,326.1 570.47,324.6 607.33,322.8 644.18,323.9 681.04,323.5 717.9,319 754.75,315.7 791.61,318.6"/>
<circle cx="128.2" cy="426.1" r="2.5" fill="#0000FF"/>
<circle cx="165.06" cy="413.6" r="2.5" fill="#0000FF"/>
<circle cx="201.91" cy="408.3" r="2.5" fill="#0000FF"/>
<circle cx="238.77" cy="387.3" r="2.5" fill="#0000FF"/>
<circle cx="275.62" cy="378.4" r="2.5" fill="#0000FF"/>
<circle cx="312.48" cy="369.1" r="2.5" fill="#0000FF"/>
<circle cx="349.34" cy="365.3" r="2.5" fill="#0000FF"/>
<circle cx="386.19" cy="356.8" r="2.5" fill="#0000FF"/>
<circle cx="423.05" cy="343" r="2.5" fill="#0000FF"/>
<circle cx="459.9" cy="331.2" r="2.5" fill="#0000FF"/>
<circle cx="496.76" cy="328.8" r="2.5" fill="#0000FF"/>
<circle cx="533.62" cy="326.1" r="2.5" fill="#0000FF"/>
<circle cx="570.47" cy="324.6" r="2.5" fill="#0000FF"/>
<circle cx="607.33" cy="322.8" r="2.5" fill="#0000FF"/>
<circle cx="644.18" cy="323.9" r="2.5" fill="#0000FF"/>
<circle cx="681.04" cy="323.5" r="2.5" fill="#0000FF"/>
<circle cx="717.9" cy="319" r="2.5" fill="#0000FF"/>
<circle cx="754.75" cy="315.7" r="2.5" fill="#0000FF"/>
<circle cx="791.61" cy="318.6" r="2.5" fill="#0000FF"/>
<polyline fill="none" stroke="#EE9A00" stroke-width="1.4" stroke-linejoin="round" points="128.2,394 165.06,384.2 201.91,353.7 238.77,352.8 275.62,360.2 312.48,358.4 349.34,347.9 386.19,341.5 423.05,330.1 459.9,324.1 496.76,316.8 533.62,311.6 570.47,307.4 607.33,300.7 644.18,298.3 681.04,297.2 717.9,297.6 754.75,296.7 791.61,294.1"/>
<circle cx="128.2" cy="394" r="2.5" fill="#EE9A00"/>
<circle cx="165.06" cy="384.2" r="2.5" fill="#EE9A00"/>
<circle cx="201.91" cy="353.7" r="2.5" fill="#EE9A00"/>
<circle cx="238.77" cy="352.8" r="2.5" fill="#EE9A00"/>
<circle cx="275.62" cy="360.2" r="2.5" fill="#EE9A00"/>
<circle cx="312.48" cy="358.4" r="2.5" fill="#EE9A00"/>
<circle cx="349.34" cy="347.9" r="2.5" fill="#EE9A00"/>
<circle cx="386.19" cy="341.5" r="2.5" fill="#EE9A00"/>
<circle cx="423.05" cy="330.1" r="2.5" fill="#EE9A00"/>
<circle cx="459.9" cy="324.1" r="2.5" fill="#EE9A00"/>
<circle cx="496.76" cy="316.8" r="2.5" fill="#EE9A00"/>
<circle cx="533.62" cy="311.6" r="2.5" fill="#EE9A00"/>
<circle cx="570.47" cy="307.4" r="2.5" fill="#EE9A00"/>
<circle cx="607.33" cy="300.7" r="2.5" fill="#EE9A00"/>
<circle cx="644.18" cy="298.3" r="2.5" fill="#EE9A00"/>
<circle cx="681.04" cy="297.2" r="2.5" fill="#EE9A00"/>
<circle cx="717.9" cy="297.6" r="2.5" fill="#EE9A00"/>
<circle cx="754.75" cy="296.7" r="2.5" fill="#EE9A00"/>
<circle cx="791.61" cy="294.1" r="2.5" fill="#EE9A00"/>
</g>
<g id="sc1">
<path d="M107.9 679.5h1.2M112.9 671.5h1.2M112.9 682.5h1.2M114.9 676.5h1.2M114.9 679.5h1.2M115.9 675.5h1.2M115.9 676.5h1.2M116.9 659.5h1.2M116.9 670.5h1.2M118.9 665.5h1.2M119.9 665.5h1.2M120.9 669.5h1.2M120.9 675.5h1.2M120.9 681.5h1.2M120.9 687.5h1.2M121.9 675.5h1.2M122.9 682.5h1.2M123.9 663.5h1.2M123.9 673.5h1.2M124.9 669.5h1.2M125.9 653.5h1.2M125.9 654.5h1.2M125.9 657.5h1.2M125.9 663.5h1.2M125.9 674.5h1.2M126.9 656.5h1.2M126.9 672.5h1.2M127.9 660.5h1.2M127.9 663.5h1.2M127.9 668.5h1.2M128.9 651.5h1.2M128.9 654.5h1.2M128.9 665.5h1.2M128.9 675.5h1.2M129.9 664.5h1.2M129.9 669.5h1.2M129.9 671.5h1.2M129.9 677.5h1.2M130.9 647.5h1.2M130.9 664.5h1.2M130.9 666.5h1.2M130.9 667.5h1.2M131.9 658.5h1.2M131.9 662.5h1.2M131.9 669.5h1.2M131.9 672.5h1.2M131.9 676.5h1.2M131.9 677.5h1.2M132.9 653.5h1.2M132.9 658.5h1.2M132.9 664.5h1.2M132.9 665.5h1.2M132.9 666.5h1.2M132.9 688.5h1.2M133.9 645.5h1.2M133.9 652.5h1.2M133.9 654.5h1.2M133.9 660.5h1.2M133.9 661.5h1.2M133.9 665.5h1.2M133.9 672.5h1.2M133.9 673.5h1.2M133.9 677.5h1.2M134.9 653.5h1.2M134.9 663.5h1.2M134.9 671.5h1.2M135.9 649.5h1.2M135.9 662.5h1.2M136.9 656.5h1.2M136.9 658.5h1.2M136.9 663.5h1.2M136.9 679.5h1.2M137.9 652.5h1.2M137.9 662.5h1.2M138.9 646.5h1.2M138.9 659.5h1.2M138.9 661.5h1.2M138.9 662.5h1.2M138.9 670.5h1.2M139.9 634.5h1.2M139.9 635.5h1.2M139.9 646.5h1.2M139.9 652.5h1.2M139.9 658.5h1.2M139.9 660.5h1.2M140.9 646.5h1.2M140.9 655.5h1.2M140.9 669.5h1.2M141.9 665.5h1.2M142.9 646.5h1.2M142.9 651.5h1.2M142.9 657.5h1.2M142.9 658.5h1.2M142.9 663.5h1.2M143.9 633.5h1.2M143.9 652.5h1.2M143.9 653.5h1.2M143.9 677.5h1.2M144.9 635.5h1.2M144.9 650.5h1.2M144.9 651.5h1.2M144.9 663.5h1.2M144.9 686.5h1.2M145.9 641.5h1.2M145.9 652.5h1.2M146.9 636.5h1.2M146.9 637.5h1.2M146.9 643.5h1.2M147.9 638.5h1.2M147.9 666.5h1.2M148.9 636.5h1.2M148.9 644.5h1.2M148.9 671.5h1.2M149.9 637.5h1.2M149.9 645.5h1.2M149.9 652.5h1.2M150.9 647.5h1.2M150.9 650.5h1.2M150.9 657.5h1.2M150.9 686.5h1.2M151.9 639.5h1.2M151.9 641.5h1.2M152.9 634.5h1.2M152.9 642.5h1.2M152.9 655.5h1.2M153.9 643.5h1.2M153.9 655.5h1.2M153.9 658.5h1.2M154.9 644.5h1.2M155.9 636.5h1.2M155.9 676.5h1.2M156.9 658.5h1.2M157.9 632.5h1.2M157.9 638.5h1.2M157.9 639.5h1.2M158.9 626.5h1.2M158.9 629.5h1.2M158.9 635.5h1.2M158.9 638.5h1.2M158.9 642.5h1.2M158.9 652.5h1.2M158.9 654.5h1.2M159.9 635.5h1.2M159.9 636.5h1.2M159.9 641.5h1.2M159.9 648.5h1.2M160.9 620.5h1.2M160.9 633.5h1.2M160.9 635.5h1.2M160.9 644.5h1.2M160.9 647.5h1.2M160.9 657.5h1.2M161.9 626.5h1.2M161.9 628.5h1.2M161.9 641.5h1.2M161.9 642.5h1.2M162.9 619.5h1.2M162.9 623.5h1.2M162.9 637.5h1.2M162.9 638.5h1.2M162.9 651.5h1.2M163.9 629.5h1.2M163.9 636.5h1.2M163.9 639.5h1.2M163.9 642.5h1.2M164.9 618.5h1.2M164.9 621.5h1.2M164.9 622.5h1.2M164.9 625.5h1.2M164.9 626.5h1.2M164.9 642.5h1.2M165.9 633.5h1.2M165.9 639.5h1.2M165.9 641.5h1.2M165.9 645.5h1.2M166.9 614.5h1.2M166.9 623.5h1.2M166.9 626.5h1.2M166.9 627.5h1.2M166.9 635.5h1.2M167.9 625.5h1.2M167.9 634.5h1.2M168.9 618.5h1.2M168.9 621.5h1.2M168.9 626.5h1.2M168.9 635.5h1.2M168.9 645.5h1.2M169.9 604.5h1.2M169.9 621.5h1.2M169.9 646.5h1.2M169.9 649.5h1.2M170.9 619.5h1.2M170.9 625.5h1.2M170.9 632.5h1.2M170.9 634.5h1.2M170.9 641.5h1.2M170.9 644.5h1.2M171.9 628.5h1.2M171.9 629.5h1.2M171.9 631.5h1.2M172.9 618.5h1.2M172.9 626.5h1.2M172.9 627.5h1.2M172.9 637.5h1.2M172.9 653.5h1.2M173.9 610.5h1.2M173.9 622.5h1.2M173.9 646.5h1.2M173.9 657.5h1.2M174.9 609.5h1.2M174.9 619.5h1.2M175.9 608.5h1.2M175.9 610.5h1.2M175.9 623.5h1.2M176.9 612.5h1.2M176.9 618.5h1.2M177.9 601.5h1.2M177.9 619.5h1.2M177.9 620.5h1.2M177.9 622.5h1.2M178.9 605.5h1.2M178.9 620.5h1.2M179.9 597.5h1.2M179.9 615.5h1.2M180.9 612.5h1.2M180.9 638.5h1.2M180.9 645.5h1.2M181.9 598.5h1.2M181.9 604.5h1.2M181.9 612.5h1.2M181.9 615.5h1.2M181.9 635.5h1.2M181.9 645.5h1.2M182.9 612.5h1.2M182.9 613.5h1.2M182.9 617.5h1.2M182.9 649.5h1.2M183.9 600.5h1.2M183.9 610.5h1.2M183.9 617.5h1.2M184.9 601.5h1.2M184.9 609.5h1.2M185.9 615.5h1.2M186.9 594.5h1.2M186.9 607.5h1.2M186.9 629.5h1.2M187.9 598.5h1.2M187.9 599.5h1.2M187.9 618.5h1.2M187.9 621.5h1.2M188.9 598.5h1.2M188.9 599.5h1.2M188.9 606.5h1.2M188.9 608.5h1.2M188.9 611.5h1.2M189.9 597.5h1.2M189.9 600.5h1.2M189.9 602.5h1.2M189.9 609.5h1.2M190.9 601.5h1.2M190.9 605.5h1.2M190.9 607.5h1.2M190.9 611.5h1.2M191.9 594.5h1.2M191.9 600.5h1.2M192.9 595.5h1.2M192.9 601.5h1.2M192.9 609.5h1.2M193.9 593.5h1.2M193.9 596.5h1.2M193.9 599.5h1.2M193.9 600.5h1.2M193.9 609.5h1.2M193.9 616.5h1.2M194.9 590.5h1.2M194.9 593.5h1.2M194.9 602.5h1.2M194.9 604.5h1.2M194.9 608.5h1.2M195.9 587.5h1.2M195.9 618.5h1.2M195.9 621.5h1.2M196.9 585.5h1.2M196.9 627.5h1.2M198.9 592.5h1.2M198.9 601.5h1.2M199.9 591.5h1.2M199.9 600.5h1.2M199.9 602.5h1.2M200.9 586.5h1.2M200.9 588.5h1.2M200.9 591.5h1.2M201.9 585.5h1.2M202.9 592.5h1.2M202.9 601.5h1.2M202.9 616.5h1.2M203.9 593.5h1.2M206.9 582.5h1.2M206.9 591.5h1.2M207.9 594.5h1.2M207.9 598.5h1.2M208.9 582.5h1.2M208.9 589.5h1.2M208.9 590.5h1.2M209.9 599.5h1.2M210.9 578.5h1.2M210.9 607.5h1.2M211.9 588.5h1.2M211.9 602.5h1.2M212.9 585.5h1.2M212.9 602.5h1.2M213.9 585.5h1.2M213.9 601.5h1.2M214.9 584.5h1.2M214.9 590.5h1.2M214.9 614.5h1.2M215.9 582.5h1.2M215.9 583.5h1.2M215.9 606.5h1.2M215.9 612.5h1.2M216.9 582.5h1.2M216.9 590.5h1.2M217.9 569.5h1.2M218.9 586.5h1.2M219.9 573.5h1.2M219.9 576.5h1.2M219.9 597.5h1.2M220.9 568.5h1.2M222.9 565.5h1.2M222.9 575.5h1.2M223.9 577.5h1.2M223.9 584.5h1.2M224.9 573.5h1.2M224.9 574.5h1.2M225.9 557.5h1.2M226.9 587.5h1.2M227.9 582.5h1.2M229.9 568.5h1.2M229.9 581.5h1.2M230.9 570.5h1.2M230.9 571.5h1.2M231.9 563.5h1.2M231.9 573.5h1.2M232.9 567.5h1.2M232.9 573.5h1.2M232.9 574.5h1.2M233.9 544.5h1.2M233.9 563.5h1.2M235.9 553.5h1.2M236.9 551.5h1.2M237.9 565.5h1.2M240.9 549.5h1.2M240.9 552.5h1.2M240.9 570.5h1.2M240.9 575.5h1.2M240.9 620.5h1.2M241.9 551.5h1.2M242.9 555.5h1.2M243.9 547.5h1.2M245.9 545.5h1.2M246.9 548.5h1.2M246.9 553.5h1.2M246.9 556.5h1.2M247.9 551.5h1.2M247.9 552.5h1.2" stroke="#1f1f1f" stroke-width="1.2" fill="none"/>
<line x1="103" y1="690.3" x2="256.55" y2="536.75" stroke="#0000FF" stroke-width="1.75" stroke-dasharray="8.5 3.9"/>
<line x1="103" y1="690.3" x2="249.79" y2="550.88" stroke="#FF0000" stroke-width="1.5"/>
<rect x="103" y="536.75" width="153.55" height="153.55" fill="none" stroke="#000" stroke-width="1.5"/>
<text x="95" y="694.5" font-size="11.2" text-anchor="end" fill="#000" stroke="#000" stroke-width="0.22">1</text>
<text x="103" y="707.6" font-size="11.2" text-anchor="middle" fill="#000" stroke="#000" stroke-width="0.22">1</text>
<line x1="103" y1="674.94" x2="107.7" y2="674.94" stroke="#000" stroke-width="1.3"/>
<line x1="118.36" y1="690.3" x2="118.36" y2="685.6" stroke="#000" stroke-width="1.3"/>
<line x1="103" y1="659.59" x2="107.7" y2="659.59" stroke="#000" stroke-width="1.3"/>
<line x1="133.71" y1="690.3" x2="133.71" y2="685.6" stroke="#000" stroke-width="1.3"/>
<line x1="103" y1="644.23" x2="107.7" y2="644.23" stroke="#000" stroke-width="1.3"/>
<line x1="149.06" y1="690.3" x2="149.06" y2="685.6" stroke="#000" stroke-width="1.3"/>
<line x1="103" y1="628.88" x2="109.9" y2="628.88" stroke="#000" stroke-width="1.3"/>
<line x1="164.42" y1="690.3" x2="164.42" y2="683.4" stroke="#000" stroke-width="1.3"/>
<text x="95" y="633.08" font-size="11.2" text-anchor="end" fill="#000" stroke="#000" stroke-width="0.22">2</text>
<text x="164.42" y="707.6" font-size="11.2" text-anchor="middle" fill="#000" stroke="#000" stroke-width="0.22">2</text>
<line x1="103" y1="613.52" x2="107.7" y2="613.52" stroke="#000" stroke-width="1.3"/>
<line x1="179.78" y1="690.3" x2="179.78" y2="685.6" stroke="#000" stroke-width="1.3"/>
<line x1="103" y1="598.17" x2="107.7" y2="598.17" stroke="#000" stroke-width="1.3"/>
<line x1="195.13" y1="690.3" x2="195.13" y2="685.6" stroke="#000" stroke-width="1.3"/>
<line x1="103" y1="582.81" x2="107.7" y2="582.81" stroke="#000" stroke-width="1.3"/>
<line x1="210.49" y1="690.3" x2="210.49" y2="685.6" stroke="#000" stroke-width="1.3"/>
<line x1="103" y1="567.46" x2="109.9" y2="567.46" stroke="#000" stroke-width="1.3"/>
<line x1="225.84" y1="690.3" x2="225.84" y2="683.4" stroke="#000" stroke-width="1.3"/>
<text x="95" y="571.66" font-size="11.2" text-anchor="end" fill="#000" stroke="#000" stroke-width="0.22">3</text>
<text x="225.84" y="707.6" font-size="11.2" text-anchor="middle" fill="#000" stroke="#000" stroke-width="0.22">3</text>
<line x1="103" y1="552.11" x2="107.7" y2="552.11" stroke="#000" stroke-width="1.3"/>
<line x1="241.19" y1="690.3" x2="241.19" y2="685.6" stroke="#000" stroke-width="1.3"/>
<line x1="256.55" y1="676.84" x2="249.65" y2="676.84" stroke="#000" stroke-width="1.3"/>
<line x1="116.46" y1="536.75" x2="116.46" y2="543.65" stroke="#000" stroke-width="1.3"/>
<text x="264.75" y="681.04" font-size="11.2" text-anchor="start" fill="#000" stroke="#000" stroke-width="0.22">4</text>
<text x="116.46" y="527.75" font-size="11.2" text-anchor="middle" fill="#000" stroke="#000" stroke-width="0.22">4</text>
<line x1="256.55" y1="658.12" x2="251.85" y2="658.12" stroke="#000" stroke-width="1.3"/>
<line x1="135.18" y1="536.75" x2="135.18" y2="541.45" stroke="#000" stroke-width="1.3"/>
<line x1="256.55" y1="639.4" x2="249.65" y2="639.4" stroke="#000" stroke-width="1.3"/>
<line x1="153.9" y1="536.75" x2="153.9" y2="543.65" stroke="#000" stroke-width="1.3"/>
<text x="264.75" y="643.6" font-size="11.2" text-anchor="start" fill="#000" stroke="#000" stroke-width="0.22">6</text>
<text x="153.9" y="527.75" font-size="11.2" text-anchor="middle" fill="#000" stroke="#000" stroke-width="0.22">6</text>
<line x1="256.55" y1="620.67" x2="251.85" y2="620.67" stroke="#000" stroke-width="1.3"/>
<line x1="172.63" y1="536.75" x2="172.63" y2="541.45" stroke="#000" stroke-width="1.3"/>
<line x1="256.55" y1="601.95" x2="249.65" y2="601.95" stroke="#000" stroke-width="1.3"/>
<line x1="191.35" y1="536.75" x2="191.35" y2="543.65" stroke="#000" stroke-width="1.3"/>
<text x="264.75" y="606.15" font-size="11.2" text-anchor="start" fill="#000" stroke="#000" stroke-width="0.22">8</text>
<text x="191.35" y="527.75" font-size="11.2" text-anchor="middle" fill="#000" stroke="#000" stroke-width="0.22">8</text>
<line x1="256.55" y1="583.23" x2="251.85" y2="583.23" stroke="#000" stroke-width="1.3"/>
<line x1="210.07" y1="536.75" x2="210.07" y2="541.45" stroke="#000" stroke-width="1.3"/>
<line x1="256.55" y1="564.51" x2="249.65" y2="564.51" stroke="#000" stroke-width="1.3"/>
<line x1="228.79" y1="536.75" x2="228.79" y2="543.65" stroke="#000" stroke-width="1.3"/>
<text x="264.75" y="568.71" font-size="11.2" text-anchor="start" fill="#000" stroke="#000" stroke-width="0.22">10</text>
<text x="228.79" y="527.75" font-size="11.2" text-anchor="middle" fill="#000" stroke="#000" stroke-width="0.22">10</text>
<line x1="256.55" y1="545.79" x2="251.85" y2="545.79" stroke="#000" stroke-width="1.3"/>
<line x1="247.51" y1="536.75" x2="247.51" y2="541.45" stroke="#000" stroke-width="1.3"/>
<text x="179.78" y="511.55" font-size="12.5" text-anchor="middle" fill="#000" stroke="#000" stroke-width="0.22">Model Height (kft MSL)</text>
<text x="179.78" y="722.8" font-size="12.5" text-anchor="middle" fill="#000" stroke="#000" stroke-width="0.22">Model Height (km MSL)</text>
<text x="77.4" y="613.52" font-size="12.5" text-anchor="middle" fill="#000" stroke="#000" stroke-width="0.22" transform="rotate(-90 77.4 613.52)">Radar Height (km MSL)</text>
<text x="284.65" y="613.52" font-size="12.4" text-anchor="middle" fill="#000" stroke="#000" stroke-width="0.22" transform="rotate(90 284.65 613.52)">Radar Height (kft MSL)</text>
<text x="59.8" y="613.52" font-size="15.15" text-anchor="middle" fill="#0000FF" stroke="#0000FF" stroke-width="0.22" transform="rotate(-90 59.8 613.52)">0-hour Forecast</text>
</g>
<g id="sc2">
<path d="M389.9 686.5h1.2M389.9 687.5h1.2M391.9 684.5h1.2M392.9 669.5h1.2M392.9 683.5h1.2M394.9 676.5h1.2M394.9 681.5h1.2M394.9 686.5h1.2M395.9 667.5h1.2M395.9 672.5h1.2M395.9 683.5h1.2M396.9 674.5h1.2M396.9 680.5h1.2M397.9 678.5h1.2M398.9 672.5h1.2M399.9 663.5h1.2M399.9 666.5h1.2M399.9 668.5h1.2M399.9 684.5h1.2M399.9 686.5h1.2M400.9 664.5h1.2M400.9 676.5h1.2M400.9 678.5h1.2M400.9 680.5h1.2M401.9 667.5h1.2M401.9 672.5h1.2M401.9 673.5h1.2M402.9 667.5h1.2M402.9 673.5h1.2M402.9 675.5h1.2M402.9 680.5h1.2M406.9 659.5h1.2M406.9 670.5h1.2M407.9 658.5h1.2M407.9 659.5h1.2M407.9 661.5h1.2M407.9 665.5h1.2M408.9 655.5h1.2M408.9 661.5h1.2M408.9 662.5h1.2M408.9 669.5h1.2M408.9 671.5h1.2M408.9 674.5h1.2M409.9 667.5h1.2M409.9 668.5h1.2M409.9 670.5h1.2M409.9 674.5h1.2M410.9 657.5h1.2M410.9 665.5h1.2M410.9 676.5h1.2M411.9 646.5h1.2M411.9 657.5h1.2M411.9 665.5h1.2M412.9 648.5h1.2M412.9 654.5h1.2M412.9 658.5h1.2M412.9 672.5h1.2M412.9 674.5h1.2M413.9 652.5h1.2M413.9 654.5h1.2M413.9 661.5h1.2M413.9 687.5h1.2M414.9 653.5h1.2M414.9 659.5h1.2M414.9 660.5h1.2M414.9 672.5h1.2M415.9 651.5h1.2M415.9 656.5h1.2M415.9 657.5h1.2M415.9 666.5h1.2M415.9 668.5h1.2M416.9 648.5h1.2M416.9 655.5h1.2M416.9 659.5h1.2M416.9 661.5h1.2M417.9 662.5h1.2M418.9 651.5h1.2M418.9 653.5h1.2M418.9 659.5h1.2M418.9 660.5h1.2M418.9 661.5h1.2M418.9 678.5h1.2M419.9 651.5h1.2M419.9 655.5h1.2M419.9 668.5h1.2M420.9 644.5h1.2M420.9 658.5h1.2M420.9 671.5h1.2M421.9 638.5h1.2M421.9 642.5h1.2M421.9 644.5h1.2M421.9 645.5h1.2M421.9 649.5h1.2M421.9 659.5h1.2M422.9 659.5h1.2M423.9 643.5h1.2M423.9 659.5h1.2M423.9 671.5h1.2M423.9 684.5h1.2M424.9 643.5h1.2M424.9 659.5h1.2M424.9 662.5h1.2M424.9 671.5h1.2M425.9 636.5h1.2M425.9 648.5h1.2M425.9 653.5h1.2M426.9 646.5h1.2M426.9 647.5h1.2M426.9 653.5h1.2M426.9 674.5h1.2M427.9 648.5h1.2M427.9 656.5h1.2M427.9 659.5h1.2M427.9 660.5h1.2M428.9 631.5h1.2M428.9 638.5h1.2M429.9 639.5h1.2M430.9 634.5h1.2M431.9 642.5h1.2M431.9 646.5h1.2M431.9 673.5h1.2M432.9 635.5h1.2M432.9 644.5h1.2M433.9 626.5h1.2M433.9 631.5h1.2M433.9 641.5h1.2M433.9 643.5h1.2M433.9 645.5h1.2M434.9 618.5h1.2M434.9 637.5h1.2M434.9 645.5h1.2M434.9 657.5h1.2M435.9 637.5h1.2M435.9 644.5h1.2M436.9 639.5h1.2M436.9 640.5h1.2M437.9 641.5h1.2M437.9 645.5h1.2M438.9 640.5h1.2M439.9 623.5h1.2M439.9 636.5h1.2M439.9 641.5h1.2M440.9 635.5h1.2M440.9 640.5h1.2M441.9 629.5h1.2M441.9 639.5h1.2M442.9 628.5h1.2M442.9 633.5h1.2M442.9 636.5h1.2M442.9 639.5h1.2M443.9 622.5h1.2M443.9 628.5h1.2M443.9 630.5h1.2M443.9 631.5h1.2M443.9 632.5h1.2M443.9 635.5h1.2M443.9 637.5h1.2M443.9 638.5h1.2M444.9 612.5h1.2M444.9 627.5h1.2M444.9 631.5h1.2M444.9 634.5h1.2M444.9 649.5h1.2M445.9 617.5h1.2M445.9 628.5h1.2M445.9 632.5h1.2M445.9 643.5h1.2M445.9 645.5h1.2M445.9 654.5h1.2M445.9 673.5h1.2M446.9 622.5h1.2M446.9 623.5h1.2M446.9 626.5h1.2M446.9 627.5h1.2M446.9 630.5h1.2M446.9 632.5h1.2M446.9 652.5h1.2M447.9 617.5h1.2M447.9 631.5h1.2M447.9 632.5h1.2M448.9 615.5h1.2M448.9 622.5h1.2M448.9 627.5h1.2M448.9 635.5h1.2M449.9 620.5h1.2M449.9 628.5h1.2M449.9 629.5h1.2M449.9 639.5h1.2M449.9 647.5h1.2M449.9 654.5h1.2M450.9 614.5h1.2M450.9 615.5h1.2M450.9 625.5h1.2M450.9 637.5h1.2M450.9 665.5h1.2M451.9 613.5h1.2M451.9 625.5h1.2M451.9 626.5h1.2M452.9 615.5h1.2M452.9 617.5h1.2M452.9 621.5h1.2M452.9 623.5h1.2M453.9 615.5h1.2M453.9 617.5h1.2M453.9 618.5h1.2M453.9 625.5h1.2M454.9 605.5h1.2M454.9 610.5h1.2M454.9 616.5h1.2M454.9 622.5h1.2M454.9 623.5h1.2M455.9 608.5h1.2M455.9 609.5h1.2M455.9 622.5h1.2M455.9 623.5h1.2M455.9 624.5h1.2M455.9 636.5h1.2M456.9 607.5h1.2M456.9 619.5h1.2M456.9 633.5h1.2M456.9 642.5h1.2M457.9 615.5h1.2M457.9 619.5h1.2M457.9 631.5h1.2M458.9 614.5h1.2M458.9 617.5h1.2M458.9 620.5h1.2M458.9 635.5h1.2M459.9 599.5h1.2M459.9 603.5h1.2M459.9 605.5h1.2M459.9 609.5h1.2M459.9 617.5h1.2M459.9 619.5h1.2M459.9 632.5h1.2M460.9 620.5h1.2M460.9 625.5h1.2M460.9 638.5h1.2M461.9 635.5h1.2M462.9 613.5h1.2M462.9 614.5h1.2M462.9 628.5h1.2M462.9 634.5h1.2M463.9 612.5h1.2M463.9 625.5h1.2M464.9 606.5h1.2M464.9 611.5h1.2M465.9 595.5h1.2M465.9 600.5h1.2M465.9 612.5h1.2M465.9 618.5h1.2M466.9 600.5h1.2M466.9 601.5h1.2M467.9 595.5h1.2M467.9 607.5h1.2M467.9 610.5h1.2M467.9 614.5h1.2M467.9 617.5h1.2M468.9 600.5h1.2M468.9 606.5h1.2M468.9 615.5h1.2M469.9 604.5h1.2M469.9 614.5h1.2M469.9 619.5h1.2M470.9 595.5h1.2M470.9 602.5h1.2M470.9 603.5h1.2M470.9 606.5h1.2M471.9 594.5h1.2M471.9 598.5h1.2M471.9 604.5h1.2M472.9 587.5h1.2M472.9 592.5h1.2M472.9 600.5h1.2M472.9 638.5h1.2M473.9 594.5h1.2M473.9 601.5h1.2M473.9 602.5h1.2M473.9 613.5h1.2M474.9 604.5h1.2M474.9 607.5h1.2M474.9 612.5h1.2M474.9 616.5h1.2M474.9 623.5h1.2M475.9 600.5h1.2M477.9 594.5h1.2M477.9 598.5h1.2M477.9 602.5h1.2M477.9 603.5h1.2M477.9 606.5h1.2M477.9 611.5h1.2M478.9 598.5h1.2M478.9 599.5h1.2M478.9 604.5h1.2M478.9 605.5h1.2M479.9 586.5h1.2M479.9 589.5h1.2M479.9 594.5h1.2M479.9 596.5h1.2M479.9 611.5h1.2M480.9 613.5h1.2M481.9 582.5h1.2M483.9 623.5h1.2M485.9 583.5h1.2M486.9 584.5h1.2M486.9 588.5h1.2M487.9 581.5h1.2M488.9 589.5h1.2M488.9 618.5h1.2M490.9 583.5h1.2M490.9 608.5h1.2M492.9 579.5h1.2M492.9 580.5h1.2M492.9 584.5h1.2M492.9 593.5h1.2M493.9 594.5h1.2M493.9 608.5h1.2M494.9 623.5h1.2M495.9 579.5h1.2M495.9 586.5h1.2M495.9 589.5h1.2M497.9 584.5h1.2M497.9 592.5h1.2M497.9 597.5h1.2M498.9 579.5h1.2M498.9 585.5h1.2M500.9 587.5h1.2M501.9 573.5h1.2M503.9 566.5h1.2M503.9 570.5h1.2M503.9 579.5h1.2M504.9 579.5h1.2M505.9 557.5h1.2M505.9 569.5h1.2M506.9 566.5h1.2M506.9 579.5h1.2M507.9 603.5h1.2M509.9 562.5h1.2M509.9 575.5h1.2M511.9 567.5h1.2M512.9 560.5h1.2M513.9 561.5h1.2M513.9 572.5h1.2M514.9 554.5h1.2M514.9 590.5h1.2M515.9 552.5h1.2M517.9 564.5h1.2M517.9 573.5h1.2M517.9 581.5h1.2M518.9 566.5h1.2M518.9 577.5h1.2M519.9 559.5h1.2M520.9 551.5h1.2M520.9 557.5h1.2M520.9 564.5h1.2M523.9 549.5h1.2M523.9 557.5h1.2M524.9 547.5h1.2M524.9 559.5h1.2M525.9 561.5h1.2M526.9 542.5h1.2M526.9 560.5h1.2M526.9 577.5h1.2M527.9 557.5h1.2M527.9 564.5h1.2" stroke="#1f1f1f" stroke-width="1.2" fill="none"/>
<line x1="383.3" y1="690.3" x2="536.85" y2="536.75" stroke="#0000FF" stroke-width="1.75" stroke-dasharray="8.5 3.9"/>
<line x1="383.3" y1="690.3" x2="530.71" y2="549.65" stroke="#FF0000" stroke-width="1.5"/>
<rect x="383.3" y="536.75" width="153.55" height="153.55" fill="none" stroke="#000" stroke-width="1.5"/>
<text x="375.3" y="694.5" font-size="11.2" text-anchor="end" fill="#000" stroke="#000" stroke-width="0.22">1</text>
<text x="383.3" y="707.6" font-size="11.2" text-anchor="middle" fill="#000" stroke="#000" stroke-width="0.22">1</text>
<line x1="383.3" y1="674.94" x2="388" y2="674.94" stroke="#000" stroke-width="1.3"/>
<line x1="398.66" y1="690.3" x2="398.66" y2="685.6" stroke="#000" stroke-width="1.3"/>
<line x1="383.3" y1="659.59" x2="388" y2="659.59" stroke="#000" stroke-width="1.3"/>
<line x1="414.01" y1="690.3" x2="414.01" y2="685.6" stroke="#000" stroke-width="1.3"/>
<line x1="383.3" y1="644.23" x2="388" y2="644.23" stroke="#000" stroke-width="1.3"/>
<line x1="429.37" y1="690.3" x2="429.37" y2="685.6" stroke="#000" stroke-width="1.3"/>
<line x1="383.3" y1="628.88" x2="390.2" y2="628.88" stroke="#000" stroke-width="1.3"/>
<line x1="444.72" y1="690.3" x2="444.72" y2="683.4" stroke="#000" stroke-width="1.3"/>
<text x="375.3" y="633.08" font-size="11.2" text-anchor="end" fill="#000" stroke="#000" stroke-width="0.22">2</text>
<text x="444.72" y="707.6" font-size="11.2" text-anchor="middle" fill="#000" stroke="#000" stroke-width="0.22">2</text>
<line x1="383.3" y1="613.52" x2="388" y2="613.52" stroke="#000" stroke-width="1.3"/>
<line x1="460.08" y1="690.3" x2="460.08" y2="685.6" stroke="#000" stroke-width="1.3"/>
<line x1="383.3" y1="598.17" x2="388" y2="598.17" stroke="#000" stroke-width="1.3"/>
<line x1="475.43" y1="690.3" x2="475.43" y2="685.6" stroke="#000" stroke-width="1.3"/>
<line x1="383.3" y1="582.81" x2="388" y2="582.81" stroke="#000" stroke-width="1.3"/>
<line x1="490.79" y1="690.3" x2="490.79" y2="685.6" stroke="#000" stroke-width="1.3"/>
<line x1="383.3" y1="567.46" x2="390.2" y2="567.46" stroke="#000" stroke-width="1.3"/>
<line x1="506.14" y1="690.3" x2="506.14" y2="683.4" stroke="#000" stroke-width="1.3"/>
<text x="375.3" y="571.66" font-size="11.2" text-anchor="end" fill="#000" stroke="#000" stroke-width="0.22">3</text>
<text x="506.14" y="707.6" font-size="11.2" text-anchor="middle" fill="#000" stroke="#000" stroke-width="0.22">3</text>
<line x1="383.3" y1="552.11" x2="388" y2="552.11" stroke="#000" stroke-width="1.3"/>
<line x1="521.5" y1="690.3" x2="521.5" y2="685.6" stroke="#000" stroke-width="1.3"/>
<line x1="536.85" y1="676.84" x2="529.95" y2="676.84" stroke="#000" stroke-width="1.3"/>
<line x1="396.76" y1="536.75" x2="396.76" y2="543.65" stroke="#000" stroke-width="1.3"/>
<text x="545.05" y="681.04" font-size="11.2" text-anchor="start" fill="#000" stroke="#000" stroke-width="0.22">4</text>
<text x="396.76" y="527.75" font-size="11.2" text-anchor="middle" fill="#000" stroke="#000" stroke-width="0.22">4</text>
<line x1="536.85" y1="658.12" x2="532.15" y2="658.12" stroke="#000" stroke-width="1.3"/>
<line x1="415.48" y1="536.75" x2="415.48" y2="541.45" stroke="#000" stroke-width="1.3"/>
<line x1="536.85" y1="639.4" x2="529.95" y2="639.4" stroke="#000" stroke-width="1.3"/>
<line x1="434.2" y1="536.75" x2="434.2" y2="543.65" stroke="#000" stroke-width="1.3"/>
<text x="545.05" y="643.6" font-size="11.2" text-anchor="start" fill="#000" stroke="#000" stroke-width="0.22">6</text>
<text x="434.2" y="527.75" font-size="11.2" text-anchor="middle" fill="#000" stroke="#000" stroke-width="0.22">6</text>
<line x1="536.85" y1="620.67" x2="532.15" y2="620.67" stroke="#000" stroke-width="1.3"/>
<line x1="452.93" y1="536.75" x2="452.93" y2="541.45" stroke="#000" stroke-width="1.3"/>
<line x1="536.85" y1="601.95" x2="529.95" y2="601.95" stroke="#000" stroke-width="1.3"/>
<line x1="471.65" y1="536.75" x2="471.65" y2="543.65" stroke="#000" stroke-width="1.3"/>
<text x="545.05" y="606.15" font-size="11.2" text-anchor="start" fill="#000" stroke="#000" stroke-width="0.22">8</text>
<text x="471.65" y="527.75" font-size="11.2" text-anchor="middle" fill="#000" stroke="#000" stroke-width="0.22">8</text>
<line x1="536.85" y1="583.23" x2="532.15" y2="583.23" stroke="#000" stroke-width="1.3"/>
<line x1="490.37" y1="536.75" x2="490.37" y2="541.45" stroke="#000" stroke-width="1.3"/>
<line x1="536.85" y1="564.51" x2="529.95" y2="564.51" stroke="#000" stroke-width="1.3"/>
<line x1="509.09" y1="536.75" x2="509.09" y2="543.65" stroke="#000" stroke-width="1.3"/>
<text x="545.05" y="568.71" font-size="11.2" text-anchor="start" fill="#000" stroke="#000" stroke-width="0.22">10</text>
<text x="509.09" y="527.75" font-size="11.2" text-anchor="middle" fill="#000" stroke="#000" stroke-width="0.22">10</text>
<line x1="536.85" y1="545.79" x2="532.15" y2="545.79" stroke="#000" stroke-width="1.3"/>
<line x1="527.81" y1="536.75" x2="527.81" y2="541.45" stroke="#000" stroke-width="1.3"/>
<text x="460.08" y="511.55" font-size="12.5" text-anchor="middle" fill="#000" stroke="#000" stroke-width="0.22">Model Height (kft MSL)</text>
<text x="460.08" y="722.8" font-size="12.5" text-anchor="middle" fill="#000" stroke="#000" stroke-width="0.22">Model Height (km MSL)</text>
<text x="357.7" y="613.52" font-size="12.5" text-anchor="middle" fill="#000" stroke="#000" stroke-width="0.22" transform="rotate(-90 357.7 613.52)">Radar Height (km MSL)</text>
<text x="564.95" y="613.52" font-size="12.4" text-anchor="middle" fill="#000" stroke="#000" stroke-width="0.22" transform="rotate(90 564.95 613.52)">Radar Height (kft MSL)</text>
<text x="340.1" y="613.52" font-size="15.15" text-anchor="middle" fill="#0000FF" stroke="#0000FF" stroke-width="0.22" transform="rotate(-90 340.1 613.52)">3-hour Forecast</text>
</g>
<g id="sc3">
<path d="M665.9 679.5h1.2M671.9 690.5h1.2M674.9 675.5h1.2M675.9 671.5h1.2M675.9 685.5h1.2M676.9 665.5h1.2M676.9 673.5h1.2M677.9 673.5h1.2M677.9 676.5h1.2M678.9 690.5h1.2M679.9 662.5h1.2M679.9 665.5h1.2M679.9 669.5h1.2M679.9 672.5h1.2M679.9 686.5h1.2M679.9 688.5h1.2M680.9 664.5h1.2M681.9 664.5h1.2M681.9 672.5h1.2M681.9 674.5h1.2M681.9 679.5h1.2M682.9 665.5h1.2M682.9 666.5h1.2M682.9 670.5h1.2M684.9 678.5h1.2M684.9 684.5h1.2M684.9 689.5h1.2M685.9 659.5h1.2M686.9 660.5h1.2M687.9 657.5h1.2M687.9 659.5h1.2M687.9 661.5h1.2M687.9 663.5h1.2M687.9 667.5h1.2M688.9 662.5h1.2M688.9 665.5h1.2M689.9 662.5h1.2M690.9 652.5h1.2M690.9 662.5h1.2M690.9 664.5h1.2M691.9 653.5h1.2M691.9 656.5h1.2M691.9 663.5h1.2M691.9 665.5h1.2M691.9 671.5h1.2M691.9 672.5h1.2M691.9 676.5h1.2M692.9 666.5h1.2M692.9 675.5h1.2M692.9 680.5h1.2M692.9 681.5h1.2M693.9 655.5h1.2M693.9 657.5h1.2M693.9 659.5h1.2M693.9 661.5h1.2M693.9 675.5h1.2M693.9 677.5h1.2M694.9 651.5h1.2M694.9 654.5h1.2M694.9 656.5h1.2M694.9 657.5h1.2M694.9 658.5h1.2M694.9 668.5h1.2M695.9 652.5h1.2M695.9 669.5h1.2M695.9 681.5h1.2M696.9 653.5h1.2M696.9 655.5h1.2M696.9 656.5h1.2M696.9 658.5h1.2M696.9 675.5h1.2M697.9 654.5h1.2M697.9 657.5h1.2M697.9 668.5h1.2M698.9 642.5h1.2M698.9 653.5h1.2M698.9 658.5h1.2M698.9 662.5h1.2M698.9 663.5h1.2M698.9 664.5h1.2M698.9 667.5h1.2M698.9 671.5h1.2M698.9 673.5h1.2M698.9 679.5h1.2M699.9 657.5h1.2M700.9 648.5h1.2M700.9 656.5h1.2M700.9 667.5h1.2M701.9 647.5h1.2M701.9 650.5h1.2M701.9 668.5h1.2M702.9 646.5h1.2M702.9 654.5h1.2M702.9 660.5h1.2M702.9 671.5h1.2M703.9 648.5h1.2M703.9 655.5h1.2M703.9 657.5h1.2M703.9 659.5h1.2M704.9 638.5h1.2M705.9 642.5h1.2M705.9 675.5h1.2M706.9 639.5h1.2M706.9 649.5h1.2M707.9 635.5h1.2M707.9 636.5h1.2M707.9 637.5h1.2M707.9 649.5h1.2M707.9 651.5h1.2M708.9 653.5h1.2M708.9 671.5h1.2M709.9 637.5h1.2M709.9 644.5h1.2M709.9 645.5h1.2M709.9 649.5h1.2M709.9 653.5h1.2M710.9 625.5h1.2M711.9 636.5h1.2M711.9 641.5h1.2M711.9 642.5h1.2M711.9 645.5h1.2M712.9 620.5h1.2M712.9 631.5h1.2M712.9 632.5h1.2M712.9 648.5h1.2M713.9 627.5h1.2M713.9 630.5h1.2M713.9 650.5h1.2M713.9 653.5h1.2M714.9 634.5h1.2M714.9 637.5h1.2M714.9 641.5h1.2M714.9 653.5h1.2M715.9 641.5h1.2M716.9 629.5h1.2M716.9 630.5h1.2M716.9 636.5h1.2M716.9 647.5h1.2M717.9 631.5h1.2M717.9 646.5h1.2M718.9 632.5h1.2M718.9 638.5h1.2M719.9 626.5h1.2M719.9 635.5h1.2M719.9 646.5h1.2M720.9 633.5h1.2M720.9 643.5h1.2M720.9 650.5h1.2M721.9 620.5h1.2M721.9 623.5h1.2M721.9 625.5h1.2M721.9 632.5h1.2M721.9 636.5h1.2M721.9 641.5h1.2M721.9 669.5h1.2M722.9 623.5h1.2M722.9 630.5h1.2M722.9 633.5h1.2M722.9 655.5h1.2M723.9 621.5h1.2M723.9 627.5h1.2M723.9 630.5h1.2M723.9 644.5h1.2M723.9 670.5h1.2M724.9 646.5h1.2M726.9 628.5h1.2M726.9 631.5h1.2M726.9 643.5h1.2M727.9 621.5h1.2M727.9 626.5h1.2M727.9 633.5h1.2M727.9 643.5h1.2M727.9 649.5h1.2M728.9 619.5h1.2M728.9 623.5h1.2M728.9 624.5h1.2M728.9 626.5h1.2M729.9 612.5h1.2M729.9 615.5h1.2M729.9 616.5h1.2M729.9 622.5h1.2M729.9 628.5h1.2M729.9 646.5h1.2M730.9 615.5h1.2M730.9 618.5h1.2M730.9 630.5h1.2M730.9 638.5h1.2M731.9 615.5h1.2M731.9 622.5h1.2M731.9 624.5h1.2M731.9 641.5h1.2M732.9 604.5h1.2M732.9 627.5h1.2M732.9 633.5h1.2M733.9 617.5h1.2M733.9 619.5h1.2M733.9 620.5h1.2M733.9 634.5h1.2M734.9 612.5h1.2M734.9 627.5h1.2M735.9 605.5h1.2M735.9 609.5h1.2M735.9 611.5h1.2M735.9 615.5h1.2M735.9 624.5h1.2M735.9 625.5h1.2M735.9 630.5h1.2M736.9 606.5h1.2M736.9 613.5h1.2M737.9 600.5h1.2M737.9 611.5h1.2M738.9 605.5h1.2M738.9 609.5h1.2M738.9 611.5h1.2M738.9 613.5h1.2M738.9 624.5h1.2M738.9 628.5h1.2M739.9 600.5h1.2M739.9 616.5h1.2M739.9 617.5h1.2M739.9 653.5h1.2M740.9 602.5h1.2M740.9 609.5h1.2M740.9 614.5h1.2M740.9 620.5h1.2M741.9 601.5h1.2M741.9 614.5h1.2M741.9 619.5h1.2M741.9 624.5h1.2M741.9 631.5h1.2M742.9 604.5h1.2M742.9 607.5h1.2M742.9 612.5h1.2M743.9 616.5h1.2M743.9 617.5h1.2M744.9 641.5h1.2M745.9 604.5h1.2M745.9 612.5h1.2M746.9 590.5h1.2M746.9 594.5h1.2M746.9 610.5h1.2M746.9 615.5h1.2M746.9 616.5h1.2M746.9 618.5h1.2M746.9 619.5h1.2M746.9 624.5h1.2M747.9 608.5h1.2M747.9 633.5h1.2M748.9 633.5h1.2M749.9 595.5h1.2M749.9 599.5h1.2M749.9 607.5h1.2M749.9 608.5h1.2M750.9 607.5h1.2M750.9 608.5h1.2M750.9 632.5h1.2M751.9 603.5h1.2M751.9 611.5h1.2M751.9 613.5h1.2M752.9 604.5h1.2M753.9 602.5h1.2M753.9 606.5h1.2M753.9 638.5h1.2M754.9 596.5h1.2M755.9 618.5h1.2M756.9 593.5h1.2M756.9 595.5h1.2M756.9 604.5h1.2M756.9 621.5h1.2M757.9 599.5h1.2M757.9 609.5h1.2M757.9 617.5h1.2M758.9 582.5h1.2M758.9 600.5h1.2M758.9 615.5h1.2M760.9 577.5h1.2M760.9 590.5h1.2M760.9 592.5h1.2M760.9 593.5h1.2M760.9 621.5h1.2M761.9 605.5h1.2M762.9 619.5h1.2M763.9 606.5h1.2M764.9 597.5h1.2M767.9 582.5h1.2M767.9 585.5h1.2M767.9 597.5h1.2M768.9 589.5h1.2M768.9 590.5h1.2M768.9 591.5h1.2M768.9 592.5h1.2M768.9 594.5h1.2M768.9 595.5h1.2M768.9 608.5h1.2M768.9 612.5h1.2M768.9 620.5h1.2M769.9 586.5h1.2M769.9 591.5h1.2M769.9 596.5h1.2M769.9 624.5h1.2M770.9 578.5h1.2M770.9 584.5h1.2M770.9 585.5h1.2M770.9 598.5h1.2M770.9 614.5h1.2M772.9 575.5h1.2M772.9 594.5h1.2M772.9 608.5h1.2M773.9 593.5h1.2M774.9 580.5h1.2M774.9 586.5h1.2M774.9 589.5h1.2M774.9 590.5h1.2M775.9 585.5h1.2M776.9 598.5h1.2M776.9 605.5h1.2M777.9 574.5h1.2M778.9 576.5h1.2M778.9 586.5h1.2M779.9 576.5h1.2M779.9 578.5h1.2M779.9 608.5h1.2M780.9 575.5h1.2M781.9 578.5h1.2M781.9 599.5h1.2M782.9 574.5h1.2M782.9 582.5h1.2M783.9 585.5h1.2M784.9 579.5h1.2M784.9 590.5h1.2M785.9 558.5h1.2M789.9 561.5h1.2M790.9 557.5h1.2M790.9 564.5h1.2M790.9 565.5h1.2M790.9 579.5h1.2M791.9 558.5h1.2M791.9 570.5h1.2M792.9 554.5h1.2M792.9 568.5h1.2M792.9 586.5h1.2M793.9 551.5h1.2M794.9 565.5h1.2M795.9 555.5h1.2M795.9 558.5h1.2M795.9 566.5h1.2M797.9 558.5h1.2M797.9 560.5h1.2M797.9 561.5h1.2M797.9 562.5h1.2M797.9 573.5h1.2M798.9 566.5h1.2M799.9 552.5h1.2M799.9 556.5h1.2M799.9 563.5h1.2M799.9 567.5h1.2M800.9 556.5h1.2M800.9 559.5h1.2M801.9 550.5h1.2M802.9 546.5h1.2M803.9 545.5h1.2M803.9 570.5h1.2M805.9 550.5h1.2M806.9 557.5h1.2M807.9 547.5h1.2" stroke="#1f1f1f" stroke-width="1.2" fill="none"/>
<line x1="663.6" y1="690.3" x2="817.15" y2="536.75" stroke="#0000FF" stroke-width="1.75" stroke-dasharray="8.5 3.9"/>
<line x1="663.6" y1="690.3" x2="813.46" y2="545.96" stroke="#FF0000" stroke-width="1.5"/>
<rect x="663.6" y="536.75" width="153.55" height="153.55" fill="none" stroke="#000" stroke-width="1.5"/>
<text x="655.6" y="694.5" font-size="11.2" text-anchor="end" fill="#000" stroke="#000" stroke-width="0.22">1</text>
<text x="663.6" y="707.6" font-size="11.2" text-anchor="middle" fill="#000" stroke="#000" stroke-width="0.22">1</text>
<line x1="663.6" y1="674.94" x2="668.3" y2="674.94" stroke="#000" stroke-width="1.3"/>
<line x1="678.96" y1="690.3" x2="678.96" y2="685.6" stroke="#000" stroke-width="1.3"/>
<line x1="663.6" y1="659.59" x2="668.3" y2="659.59" stroke="#000" stroke-width="1.3"/>
<line x1="694.31" y1="690.3" x2="694.31" y2="685.6" stroke="#000" stroke-width="1.3"/>
<line x1="663.6" y1="644.23" x2="668.3" y2="644.23" stroke="#000" stroke-width="1.3"/>
<line x1="709.66" y1="690.3" x2="709.66" y2="685.6" stroke="#000" stroke-width="1.3"/>
<line x1="663.6" y1="628.88" x2="670.5" y2="628.88" stroke="#000" stroke-width="1.3"/>
<line x1="725.02" y1="690.3" x2="725.02" y2="683.4" stroke="#000" stroke-width="1.3"/>
<text x="655.6" y="633.08" font-size="11.2" text-anchor="end" fill="#000" stroke="#000" stroke-width="0.22">2</text>
<text x="725.02" y="707.6" font-size="11.2" text-anchor="middle" fill="#000" stroke="#000" stroke-width="0.22">2</text>
<line x1="663.6" y1="613.52" x2="668.3" y2="613.52" stroke="#000" stroke-width="1.3"/>
<line x1="740.38" y1="690.3" x2="740.38" y2="685.6" stroke="#000" stroke-width="1.3"/>
<line x1="663.6" y1="598.17" x2="668.3" y2="598.17" stroke="#000" stroke-width="1.3"/>
<line x1="755.73" y1="690.3" x2="755.73" y2="685.6" stroke="#000" stroke-width="1.3"/>
<line x1="663.6" y1="582.81" x2="668.3" y2="582.81" stroke="#000" stroke-width="1.3"/>
<line x1="771.09" y1="690.3" x2="771.09" y2="685.6" stroke="#000" stroke-width="1.3"/>
<line x1="663.6" y1="567.46" x2="670.5" y2="567.46" stroke="#000" stroke-width="1.3"/>
<line x1="786.44" y1="690.3" x2="786.44" y2="683.4" stroke="#000" stroke-width="1.3"/>
<text x="655.6" y="571.66" font-size="11.2" text-anchor="end" fill="#000" stroke="#000" stroke-width="0.22">3</text>
<text x="786.44" y="707.6" font-size="11.2" text-anchor="middle" fill="#000" stroke="#000" stroke-width="0.22">3</text>
<line x1="663.6" y1="552.11" x2="668.3" y2="552.11" stroke="#000" stroke-width="1.3"/>
<line x1="801.8" y1="690.3" x2="801.8" y2="685.6" stroke="#000" stroke-width="1.3"/>
<line x1="817.15" y1="676.84" x2="810.25" y2="676.84" stroke="#000" stroke-width="1.3"/>
<line x1="677.06" y1="536.75" x2="677.06" y2="543.65" stroke="#000" stroke-width="1.3"/>
<text x="825.35" y="681.04" font-size="11.2" text-anchor="start" fill="#000" stroke="#000" stroke-width="0.22">4</text>
<text x="677.06" y="527.75" font-size="11.2" text-anchor="middle" fill="#000" stroke="#000" stroke-width="0.22">4</text>
<line x1="817.15" y1="658.12" x2="812.45" y2="658.12" stroke="#000" stroke-width="1.3"/>
<line x1="695.78" y1="536.75" x2="695.78" y2="541.45" stroke="#000" stroke-width="1.3"/>
<line x1="817.15" y1="639.4" x2="810.25" y2="639.4" stroke="#000" stroke-width="1.3"/>
<line x1="714.5" y1="536.75" x2="714.5" y2="543.65" stroke="#000" stroke-width="1.3"/>
<text x="825.35" y="643.6" font-size="11.2" text-anchor="start" fill="#000" stroke="#000" stroke-width="0.22">6</text>
<text x="714.5" y="527.75" font-size="11.2" text-anchor="middle" fill="#000" stroke="#000" stroke-width="0.22">6</text>
<line x1="817.15" y1="620.67" x2="812.45" y2="620.67" stroke="#000" stroke-width="1.3"/>
<line x1="733.23" y1="536.75" x2="733.23" y2="541.45" stroke="#000" stroke-width="1.3"/>
<line x1="817.15" y1="601.95" x2="810.25" y2="601.95" stroke="#000" stroke-width="1.3"/>
<line x1="751.95" y1="536.75" x2="751.95" y2="543.65" stroke="#000" stroke-width="1.3"/>
<text x="825.35" y="606.15" font-size="11.2" text-anchor="start" fill="#000" stroke="#000" stroke-width="0.22">8</text>
<text x="751.95" y="527.75" font-size="11.2" text-anchor="middle" fill="#000" stroke="#000" stroke-width="0.22">8</text>
<line x1="817.15" y1="583.23" x2="812.45" y2="583.23" stroke="#000" stroke-width="1.3"/>
<line x1="770.67" y1="536.75" x2="770.67" y2="541.45" stroke="#000" stroke-width="1.3"/>
<line x1="817.15" y1="564.51" x2="810.25" y2="564.51" stroke="#000" stroke-width="1.3"/>
<line x1="789.39" y1="536.75" x2="789.39" y2="543.65" stroke="#000" stroke-width="1.3"/>
<text x="825.35" y="568.71" font-size="11.2" text-anchor="start" fill="#000" stroke="#000" stroke-width="0.22">10</text>
<text x="789.39" y="527.75" font-size="11.2" text-anchor="middle" fill="#000" stroke="#000" stroke-width="0.22">10</text>
<line x1="817.15" y1="545.79" x2="812.45" y2="545.79" stroke="#000" stroke-width="1.3"/>
<line x1="808.11" y1="536.75" x2="808.11" y2="541.45" stroke="#000" stroke-width="1.3"/>
<text x="740.38" y="511.55" font-size="12.5" text-anchor="middle" fill="#000" stroke="#000" stroke-width="0.22">Model Height (kft MSL)</text>
<text x="740.38" y="722.8" font-size="12.5" text-anchor="middle" fill="#000" stroke="#000" stroke-width="0.22">Model Height (km MSL)</text>
<text x="638" y="613.52" font-size="12.5" text-anchor="middle" fill="#000" stroke="#000" stroke-width="0.22" transform="rotate(-90 638 613.52)">Radar Height (km MSL)</text>
<text x="845.25" y="613.52" font-size="12.4" text-anchor="middle" fill="#000" stroke="#000" stroke-width="0.22" transform="rotate(90 845.25 613.52)">Radar Height (kft MSL)</text>
<text x="620.4" y="613.52" font-size="15.15" text-anchor="middle" fill="#0000FF" stroke="#0000FF" stroke-width="0.22" transform="rotate(-90 620.4 613.52)">6-hour Forecast</text>
</g>
<g id="sc4">
<path d="M247.9 906.5h1.2M247.9 909.5h1.2M247.9 913.5h1.2M249.9 907.5h1.2M249.9 916.5h1.2M257.9 884.5h1.2M258.9 890.5h1.2M258.9 905.5h1.2M259.9 903.5h1.2M259.9 909.5h1.2M259.9 912.5h1.2M259.9 914.5h1.2M261.9 894.5h1.2M261.9 903.5h1.2M262.9 877.5h1.2M262.9 908.5h1.2M262.9 910.5h1.2M263.9 906.5h1.2M263.9 917.5h1.2M264.9 873.5h1.2M264.9 898.5h1.2M264.9 912.5h1.2M265.9 878.5h1.2M265.9 884.5h1.2M265.9 903.5h1.2M265.9 904.5h1.2M266.9 891.5h1.2M266.9 897.5h1.2M266.9 902.5h1.2M266.9 906.5h1.2M267.9 886.5h1.2M267.9 890.5h1.2M267.9 901.5h1.2M268.9 871.5h1.2M268.9 879.5h1.2M268.9 883.5h1.2M268.9 889.5h1.2M268.9 898.5h1.2M268.9 900.5h1.2M269.9 890.5h1.2M269.9 896.5h1.2M269.9 905.5h1.2M269.9 916.5h1.2M270.9 875.5h1.2M270.9 880.5h1.2M270.9 883.5h1.2M270.9 889.5h1.2M270.9 893.5h1.2M271.9 877.5h1.2M271.9 883.5h1.2M271.9 886.5h1.2M271.9 888.5h1.2M271.9 891.5h1.2M271.9 901.5h1.2M271.9 908.5h1.2M271.9 918.5h1.2M272.9 891.5h1.2M272.9 893.5h1.2M272.9 895.5h1.2M272.9 905.5h1.2M272.9 910.5h1.2M272.9 915.5h1.2M273.9 873.5h1.2M273.9 878.5h1.2M273.9 889.5h1.2M273.9 890.5h1.2M273.9 891.5h1.2M273.9 901.5h1.2M274.9 874.5h1.2M274.9 883.5h1.2M274.9 884.5h1.2M274.9 885.5h1.2M274.9 890.5h1.2M274.9 914.5h1.2M275.9 877.5h1.2M275.9 890.5h1.2M276.9 868.5h1.2M276.9 870.5h1.2M276.9 872.5h1.2M276.9 883.5h1.2M277.9 873.5h1.2M277.9 877.5h1.2M277.9 878.5h1.2M277.9 883.5h1.2M277.9 888.5h1.2M277.9 890.5h1.2M277.9 891.5h1.2M277.9 904.5h1.2M278.9 868.5h1.2M278.9 874.5h1.2M278.9 880.5h1.2M278.9 881.5h1.2M279.9 869.5h1.2M279.9 882.5h1.2M279.9 883.5h1.2M279.9 884.5h1.2M279.9 894.5h1.2M279.9 908.5h1.2M280.9 876.5h1.2M280.9 883.5h1.2M280.9 887.5h1.2M281.9 864.5h1.2M281.9 866.5h1.2M281.9 880.5h1.2M281.9 881.5h1.2M281.9 886.5h1.2M281.9 887.5h1.2M281.9 889.5h1.2M282.9 870.5h1.2M282.9 871.5h1.2M282.9 883.5h1.2M282.9 904.5h1.2M283.9 877.5h1.2M283.9 879.5h1.2M283.9 903.5h1.2M284.9 877.5h1.2M285.9 877.5h1.2M285.9 878.5h1.2M285.9 884.5h1.2M286.9 864.5h1.2M286.9 871.5h1.2M286.9 875.5h1.2M286.9 878.5h1.2M287.9 866.5h1.2M287.9 868.5h1.2M287.9 874.5h1.2M287.9 902.5h1.2M288.9 881.5h1.2M288.9 882.5h1.2M289.9 869.5h1.2M289.9 873.5h1.2M289.9 876.5h1.2M289.9 881.5h1.2M289.9 882.5h1.2M289.9 884.5h1.2M290.9 873.5h1.2M290.9 880.5h1.2M291.9 858.5h1.2M291.9 908.5h1.2M292.9 873.5h1.2M293.9 869.5h1.2M294.9 881.5h1.2M295.9 850.5h1.2M295.9 878.5h1.2M296.9 853.5h1.2M296.9 860.5h1.2M296.9 867.5h1.2M296.9 871.5h1.2M296.9 879.5h1.2M296.9 882.5h1.2M297.9 859.5h1.2M298.9 854.5h1.2M298.9 873.5h1.2M299.9 874.5h1.2M300.9 849.5h1.2M300.9 859.5h1.2M300.9 878.5h1.2M301.9 855.5h1.2M301.9 857.5h1.2M301.9 861.5h1.2M301.9 885.5h1.2M302.9 850.5h1.2M302.9 859.5h1.2M302.9 881.5h1.2M303.9 850.5h1.2M303.9 854.5h1.2M303.9 860.5h1.2M303.9 887.5h1.2M304.9 848.5h1.2M304.9 872.5h1.2M304.9 876.5h1.2M305.9 853.5h1.2M305.9 856.5h1.2M305.9 892.5h1.2M306.9 847.5h1.2M306.9 858.5h1.2M307.9 843.5h1.2M307.9 852.5h1.2M307.9 857.5h1.2M307.9 873.5h1.2M307.9 897.5h1.2M308.9 843.5h1.2M308.9 847.5h1.2M308.9 848.5h1.2M308.9 862.5h1.2M308.9 867.5h1.2M309.9 851.5h1.2M309.9 860.5h1.2M310.9 854.5h1.2M310.9 857.5h1.2M310.9 858.5h1.2M311.9 848.5h1.2M311.9 869.5h1.2M312.9 846.5h1.2M312.9 847.5h1.2M312.9 853.5h1.2M312.9 889.5h1.2M313.9 838.5h1.2M313.9 853.5h1.2M313.9 854.5h1.2M313.9 855.5h1.2M314.9 846.5h1.2M314.9 847.5h1.2M315.9 838.5h1.2M315.9 841.5h1.2M315.9 852.5h1.2M315.9 856.5h1.2M316.9 836.5h1.2M316.9 846.5h1.2M316.9 859.5h1.2M317.9 837.5h1.2M317.9 855.5h1.2M318.9 846.5h1.2M318.9 850.5h1.2M318.9 851.5h1.2M318.9 855.5h1.2M318.9 860.5h1.2M318.9 863.5h1.2M319.9 841.5h1.2M319.9 855.5h1.2M319.9 858.5h1.2M319.9 865.5h1.2M320.9 829.5h1.2M320.9 844.5h1.2M321.9 819.5h1.2M321.9 831.5h1.2M321.9 833.5h1.2M322.9 843.5h1.2M322.9 849.5h1.2M322.9 862.5h1.2M322.9 882.5h1.2M323.9 838.5h1.2M323.9 846.5h1.2M323.9 850.5h1.2M323.9 855.5h1.2M324.9 844.5h1.2M324.9 846.5h1.2M324.9 863.5h1.2M324.9 871.5h1.2M325.9 836.5h1.2M325.9 865.5h1.2M326.9 822.5h1.2M326.9 830.5h1.2M326.9 839.5h1.2M326.9 848.5h1.2M326.9 852.5h1.2M327.9 830.5h1.2M327.9 841.5h1.2M327.9 842.5h1.2M328.9 812.5h1.2M328.9 822.5h1.2M328.9 833.5h1.2M328.9 837.5h1.2M328.9 844.5h1.2M328.9 846.5h1.2M329.9 815.5h1.2M329.9 821.5h1.2M329.9 833.5h1.2M329.9 840.5h1.2M329.9 843.5h1.2M329.9 849.5h1.2M329.9 861.5h1.2M330.9 829.5h1.2M330.9 838.5h1.2M331.9 819.5h1.2M331.9 825.5h1.2M331.9 833.5h1.2M331.9 844.5h1.2M331.9 846.5h1.2M331.9 861.5h1.2M331.9 862.5h1.2M332.9 821.5h1.2M332.9 822.5h1.2M332.9 824.5h1.2M332.9 830.5h1.2M332.9 847.5h1.2M333.9 821.5h1.2M333.9 824.5h1.2M333.9 825.5h1.2M334.9 810.5h1.2M335.9 823.5h1.2M335.9 824.5h1.2M335.9 836.5h1.2M335.9 847.5h1.2M336.9 810.5h1.2M336.9 847.5h1.2M337.9 817.5h1.2M337.9 819.5h1.2M338.9 823.5h1.2M338.9 828.5h1.2M338.9 829.5h1.2M338.9 845.5h1.2M339.9 819.5h1.2M339.9 853.5h1.2M340.9 808.5h1.2M340.9 816.5h1.2M340.9 818.5h1.2M341.9 806.5h1.2M341.9 812.5h1.2M341.9 823.5h1.2M341.9 828.5h1.2M341.9 835.5h1.2M342.9 836.5h1.2M343.9 814.5h1.2M344.9 824.5h1.2M344.9 829.5h1.2M345.9 809.5h1.2M345.9 821.5h1.2M346.9 813.5h1.2M346.9 815.5h1.2M346.9 827.5h1.2M347.9 801.5h1.2M347.9 817.5h1.2M347.9 820.5h1.2M348.9 822.5h1.2M348.9 830.5h1.2M348.9 840.5h1.2M349.9 820.5h1.2M349.9 822.5h1.2M349.9 823.5h1.2M349.9 832.5h1.2M350.9 831.5h1.2M351.9 813.5h1.2M351.9 834.5h1.2M351.9 852.5h1.2M353.9 787.5h1.2M353.9 811.5h1.2M353.9 813.5h1.2M354.9 810.5h1.2M354.9 814.5h1.2M355.9 825.5h1.2M356.9 811.5h1.2M357.9 805.5h1.2M357.9 809.5h1.2M357.9 812.5h1.2M357.9 814.5h1.2M358.9 820.5h1.2M360.9 792.5h1.2M360.9 794.5h1.2M360.9 811.5h1.2M361.9 810.5h1.2M363.9 810.5h1.2M364.9 796.5h1.2M364.9 808.5h1.2M366.9 784.5h1.2M367.9 784.5h1.2M368.9 793.5h1.2M369.9 798.5h1.2M370.9 793.5h1.2M371.9 787.5h1.2M371.9 806.5h1.2M371.9 818.5h1.2M372.9 785.5h1.2M372.9 808.5h1.2M373.9 801.5h1.2M375.9 772.5h1.2M376.9 774.5h1.2M376.9 780.5h1.2M377.9 773.5h1.2M378.9 778.5h1.2M380.9 771.5h1.2M380.9 791.5h1.2M383.9 832.5h1.2M385.9 773.5h1.2M385.9 792.5h1.2" stroke="#1f1f1f" stroke-width="1.2" fill="none"/>
<line x1="243.3" y1="917.75" x2="396.85" y2="764.2" stroke="#0000FF" stroke-width="1.75" stroke-dasharray="8.5 3.9"/>
<line x1="243.3" y1="917.75" x2="389.48" y2="780.17" stroke="#FF0000" stroke-width="1.5"/>
<rect x="243.3" y="764.2" width="153.55" height="153.55" fill="none" stroke="#000" stroke-width="1.5"/>
<text x="235.3" y="921.95" font-size="11.2" text-anchor="end" fill="#000" stroke="#000" stroke-width="0.22">1</text>
<text x="243.3" y="935.05" font-size="11.2" text-anchor="middle" fill="#000" stroke="#000" stroke-width="0.22">1</text>
<line x1="243.3" y1="902.39" x2="248" y2="902.39" stroke="#000" stroke-width="1.3"/>
<line x1="258.66" y1="917.75" x2="258.66" y2="913.05" stroke="#000" stroke-width="1.3"/>
<line x1="243.3" y1="887.04" x2="248" y2="887.04" stroke="#000" stroke-width="1.3"/>
<line x1="274.01" y1="917.75" x2="274.01" y2="913.05" stroke="#000" stroke-width="1.3"/>
<line x1="243.3" y1="871.68" x2="248" y2="871.68" stroke="#000" stroke-width="1.3"/>
<line x1="289.37" y1="917.75" x2="289.37" y2="913.05" stroke="#000" stroke-width="1.3"/>
<line x1="243.3" y1="856.33" x2="250.2" y2="856.33" stroke="#000" stroke-width="1.3"/>
<line x1="304.72" y1="917.75" x2="304.72" y2="910.85" stroke="#000" stroke-width="1.3"/>
<text x="235.3" y="860.53" font-size="11.2" text-anchor="end" fill="#000" stroke="#000" stroke-width="0.22">2</text>
<text x="304.72" y="935.05" font-size="11.2" text-anchor="middle" fill="#000" stroke="#000" stroke-width="0.22">2</text>
<line x1="243.3" y1="840.98" x2="248" y2="840.98" stroke="#000" stroke-width="1.3"/>
<line x1="320.08" y1="917.75" x2="320.08" y2="913.05" stroke="#000" stroke-width="1.3"/>
<line x1="243.3" y1="825.62" x2="248" y2="825.62" stroke="#000" stroke-width="1.3"/>
<line x1="335.43" y1="917.75" x2="335.43" y2="913.05" stroke="#000" stroke-width="1.3"/>
<line x1="243.3" y1="810.26" x2="248" y2="810.26" stroke="#000" stroke-width="1.3"/>
<line x1="350.79" y1="917.75" x2="350.79" y2="913.05" stroke="#000" stroke-width="1.3"/>
<line x1="243.3" y1="794.91" x2="250.2" y2="794.91" stroke="#000" stroke-width="1.3"/>
<line x1="366.14" y1="917.75" x2="366.14" y2="910.85" stroke="#000" stroke-width="1.3"/>
<text x="235.3" y="799.11" font-size="11.2" text-anchor="end" fill="#000" stroke="#000" stroke-width="0.22">3</text>
<text x="366.14" y="935.05" font-size="11.2" text-anchor="middle" fill="#000" stroke="#000" stroke-width="0.22">3</text>
<line x1="243.3" y1="779.56" x2="248" y2="779.56" stroke="#000" stroke-width="1.3"/>
<line x1="381.5" y1="917.75" x2="381.5" y2="913.05" stroke="#000" stroke-width="1.3"/>
<line x1="396.85" y1="904.29" x2="389.95" y2="904.29" stroke="#000" stroke-width="1.3"/>
<line x1="256.76" y1="764.2" x2="256.76" y2="771.1" stroke="#000" stroke-width="1.3"/>
<text x="405.05" y="908.49" font-size="11.2" text-anchor="start" fill="#000" stroke="#000" stroke-width="0.22">4</text>
<text x="256.76" y="755.2" font-size="11.2" text-anchor="middle" fill="#000" stroke="#000" stroke-width="0.22">4</text>
<line x1="396.85" y1="885.57" x2="392.15" y2="885.57" stroke="#000" stroke-width="1.3"/>
<line x1="275.48" y1="764.2" x2="275.48" y2="768.9" stroke="#000" stroke-width="1.3"/>
<line x1="396.85" y1="866.85" x2="389.95" y2="866.85" stroke="#000" stroke-width="1.3"/>
<line x1="294.2" y1="764.2" x2="294.2" y2="771.1" stroke="#000" stroke-width="1.3"/>
<text x="405.05" y="871.05" font-size="11.2" text-anchor="start" fill="#000" stroke="#000" stroke-width="0.22">6</text>
<text x="294.2" y="755.2" font-size="11.2" text-anchor="middle" fill="#000" stroke="#000" stroke-width="0.22">6</text>
<line x1="396.85" y1="848.12" x2="392.15" y2="848.12" stroke="#000" stroke-width="1.3"/>
<line x1="312.93" y1="764.2" x2="312.93" y2="768.9" stroke="#000" stroke-width="1.3"/>
<line x1="396.85" y1="829.4" x2="389.95" y2="829.4" stroke="#000" stroke-width="1.3"/>
<line x1="331.65" y1="764.2" x2="331.65" y2="771.1" stroke="#000" stroke-width="1.3"/>
<text x="405.05" y="833.6" font-size="11.2" text-anchor="start" fill="#000" stroke="#000" stroke-width="0.22">8</text>
<text x="331.65" y="755.2" font-size="11.2" text-anchor="middle" fill="#000" stroke="#000" stroke-width="0.22">8</text>
<line x1="396.85" y1="810.68" x2="392.15" y2="810.68" stroke="#000" stroke-width="1.3"/>
<line x1="350.37" y1="764.2" x2="350.37" y2="768.9" stroke="#000" stroke-width="1.3"/>
<line x1="396.85" y1="791.96" x2="389.95" y2="791.96" stroke="#000" stroke-width="1.3"/>
<line x1="369.09" y1="764.2" x2="369.09" y2="771.1" stroke="#000" stroke-width="1.3"/>
<text x="405.05" y="796.16" font-size="11.2" text-anchor="start" fill="#000" stroke="#000" stroke-width="0.22">10</text>
<text x="369.09" y="755.2" font-size="11.2" text-anchor="middle" fill="#000" stroke="#000" stroke-width="0.22">10</text>
<line x1="396.85" y1="773.24" x2="392.15" y2="773.24" stroke="#000" stroke-width="1.3"/>
<line x1="387.81" y1="764.2" x2="387.81" y2="768.9" stroke="#000" stroke-width="1.3"/>
<text x="320.08" y="739" font-size="12.5" text-anchor="middle" fill="#000" stroke="#000" stroke-width="0.22">Model Height (kft MSL)</text>
<text x="320.08" y="950.25" font-size="12.5" text-anchor="middle" fill="#000" stroke="#000" stroke-width="0.22">Model Height (km MSL)</text>
<text x="217.7" y="840.98" font-size="12.5" text-anchor="middle" fill="#000" stroke="#000" stroke-width="0.22" transform="rotate(-90 217.7 840.98)">Radar Height (km MSL)</text>
<text x="424.95" y="840.98" font-size="12.4" text-anchor="middle" fill="#000" stroke="#000" stroke-width="0.22" transform="rotate(90 424.95 840.98)">Radar Height (kft MSL)</text>
<text x="200.1" y="840.98" font-size="15.15" text-anchor="middle" fill="#0000FF" stroke="#0000FF" stroke-width="0.22" transform="rotate(-90 200.1 840.98)">12-hour Forecast</text>
</g>
<g id="sc5">
<path d="M526.9 901.5h1.2M528.9 911.5h1.2M531.9 914.5h1.2M532.9 912.5h1.2M532.9 913.5h1.2M533.9 906.5h1.2M534.9 903.5h1.2M535.9 896.5h1.2M535.9 915.5h1.2M536.9 883.5h1.2M537.9 899.5h1.2M537.9 907.5h1.2M538.9 891.5h1.2M538.9 901.5h1.2M538.9 903.5h1.2M538.9 913.5h1.2M539.9 897.5h1.2M539.9 903.5h1.2M540.9 902.5h1.2M540.9 907.5h1.2M541.9 897.5h1.2M541.9 899.5h1.2M541.9 908.5h1.2M541.9 910.5h1.2M541.9 912.5h1.2M542.9 883.5h1.2M542.9 906.5h1.2M543.9 897.5h1.2M543.9 902.5h1.2M544.9 904.5h1.2M545.9 886.5h1.2M545.9 898.5h1.2M545.9 899.5h1.2M545.9 907.5h1.2M546.9 904.5h1.2M547.9 883.5h1.2M547.9 887.5h1.2M547.9 893.5h1.2M547.9 901.5h1.2M547.9 904.5h1.2M547.9 907.5h1.2M547.9 915.5h1.2M548.9 899.5h1.2M548.9 902.5h1.2M548.9 914.5h1.2M549.9 894.5h1.2M549.9 898.5h1.2M550.9 895.5h1.2M550.9 897.5h1.2M551.9 892.5h1.2M551.9 910.5h1.2M552.9 888.5h1.2M552.9 906.5h1.2M552.9 917.5h1.2M553.9 878.5h1.2M553.9 880.5h1.2M553.9 882.5h1.2M553.9 894.5h1.2M553.9 895.5h1.2M554.9 877.5h1.2M554.9 879.5h1.2M554.9 882.5h1.2M554.9 886.5h1.2M554.9 890.5h1.2M554.9 893.5h1.2M554.9 902.5h1.2M555.9 858.5h1.2M555.9 891.5h1.2M555.9 907.5h1.2M555.9 910.5h1.2M556.9 895.5h1.2M557.9 875.5h1.2M557.9 879.5h1.2M557.9 882.5h1.2M557.9 903.5h1.2M558.9 885.5h1.2M559.9 871.5h1.2M559.9 874.5h1.2M559.9 884.5h1.2M559.9 885.5h1.2M559.9 891.5h1.2M560.9 868.5h1.2M560.9 869.5h1.2M560.9 876.5h1.2M560.9 884.5h1.2M560.9 888.5h1.2M560.9 892.5h1.2M560.9 909.5h1.2M561.9 866.5h1.2M561.9 873.5h1.2M561.9 882.5h1.2M561.9 886.5h1.2M562.9 862.5h1.2M562.9 878.5h1.2M562.9 880.5h1.2M562.9 893.5h1.2M563.9 870.5h1.2M563.9 871.5h1.2M563.9 874.5h1.2M563.9 883.5h1.2M563.9 892.5h1.2M563.9 901.5h1.2M564.9 870.5h1.2M564.9 878.5h1.2M565.9 865.5h1.2M565.9 878.5h1.2M566.9 872.5h1.2M566.9 876.5h1.2M566.9 880.5h1.2M566.9 890.5h1.2M567.9 871.5h1.2M567.9 874.5h1.2M568.9 873.5h1.2M568.9 882.5h1.2M569.9 871.5h1.2M569.9 890.5h1.2M570.9 872.5h1.2M570.9 899.5h1.2M571.9 859.5h1.2M571.9 860.5h1.2M571.9 866.5h1.2M571.9 879.5h1.2M571.9 880.5h1.2M572.9 865.5h1.2M572.9 875.5h1.2M572.9 876.5h1.2M572.9 877.5h1.2M572.9 883.5h1.2M573.9 862.5h1.2M573.9 863.5h1.2M573.9 872.5h1.2M573.9 876.5h1.2M574.9 866.5h1.2M574.9 867.5h1.2M574.9 876.5h1.2M575.9 873.5h1.2M575.9 876.5h1.2M575.9 880.5h1.2M576.9 853.5h1.2M576.9 857.5h1.2M576.9 862.5h1.2M576.9 872.5h1.2M576.9 898.5h1.2M577.9 857.5h1.2M577.9 868.5h1.2M577.9 869.5h1.2M578.9 857.5h1.2M578.9 861.5h1.2M578.9 865.5h1.2M579.9 849.5h1.2M579.9 881.5h1.2M580.9 851.5h1.2M580.9 864.5h1.2M580.9 869.5h1.2M580.9 871.5h1.2M581.9 852.5h1.2M581.9 869.5h1.2M581.9 874.5h1.2M581.9 887.5h1.2M582.9 860.5h1.2M582.9 862.5h1.2M582.9 865.5h1.2M582.9 868.5h1.2M582.9 869.5h1.2M582.9 885.5h1.2M583.9 851.5h1.2M583.9 853.5h1.2M583.9 857.5h1.2M583.9 862.5h1.2M583.9 864.5h1.2M584.9 857.5h1.2M584.9 873.5h1.2M585.9 875.5h1.2M585.9 882.5h1.2M586.9 839.5h1.2M586.9 849.5h1.2M586.9 851.5h1.2M586.9 853.5h1.2M586.9 861.5h1.2M587.9 853.5h1.2M587.9 854.5h1.2M587.9 855.5h1.2M587.9 860.5h1.2M587.9 883.5h1.2M588.9 854.5h1.2M588.9 859.5h1.2M588.9 860.5h1.2M588.9 861.5h1.2M588.9 867.5h1.2M588.9 880.5h1.2M589.9 838.5h1.2M589.9 856.5h1.2M589.9 877.5h1.2M590.9 825.5h1.2M590.9 854.5h1.2M590.9 863.5h1.2M590.9 866.5h1.2M590.9 870.5h1.2M590.9 885.5h1.2M590.9 886.5h1.2M591.9 857.5h1.2M591.9 858.5h1.2M591.9 864.5h1.2M591.9 868.5h1.2M591.9 869.5h1.2M591.9 884.5h1.2M591.9 891.5h1.2M592.9 847.5h1.2M593.9 858.5h1.2M594.9 827.5h1.2M594.9 838.5h1.2M594.9 848.5h1.2M595.9 844.5h1.2M596.9 835.5h1.2M596.9 844.5h1.2M596.9 873.5h1.2M597.9 837.5h1.2M597.9 845.5h1.2M597.9 851.5h1.2M598.9 841.5h1.2M598.9 848.5h1.2M598.9 849.5h1.2M598.9 850.5h1.2M598.9 854.5h1.2M598.9 858.5h1.2M598.9 861.5h1.2M599.9 837.5h1.2M599.9 850.5h1.2M600.9 842.5h1.2M600.9 845.5h1.2M600.9 849.5h1.2M600.9 850.5h1.2M601.9 830.5h1.2M601.9 840.5h1.2M601.9 843.5h1.2M601.9 848.5h1.2M601.9 853.5h1.2M601.9 863.5h1.2M602.9 855.5h1.2M603.9 853.5h1.2M603.9 871.5h1.2M603.9 872.5h1.2M604.9 839.5h1.2M604.9 841.5h1.2M604.9 857.5h1.2M605.9 847.5h1.2M606.9 824.5h1.2M606.9 841.5h1.2M606.9 848.5h1.2M606.9 870.5h1.2M608.9 835.5h1.2M610.9 818.5h1.2M610.9 828.5h1.2M610.9 832.5h1.2M610.9 833.5h1.2M610.9 834.5h1.2M610.9 836.5h1.2M610.9 846.5h1.2M611.9 829.5h1.2M611.9 835.5h1.2M612.9 830.5h1.2M612.9 831.5h1.2M612.9 836.5h1.2M613.9 827.5h1.2M613.9 848.5h1.2M613.9 863.5h1.2M614.9 830.5h1.2M614.9 834.5h1.2M615.9 807.5h1.2M615.9 809.5h1.2M615.9 815.5h1.2M616.9 817.5h1.2M616.9 835.5h1.2M616.9 839.5h1.2M617.9 819.5h1.2M617.9 826.5h1.2M617.9 845.5h1.2M617.9 868.5h1.2M618.9 804.5h1.2M619.9 825.5h1.2M619.9 829.5h1.2M620.9 809.5h1.2M620.9 839.5h1.2M621.9 838.5h1.2M621.9 861.5h1.2M623.9 829.5h1.2M624.9 811.5h1.2M624.9 820.5h1.2M625.9 815.5h1.2M625.9 816.5h1.2M625.9 827.5h1.2M626.9 820.5h1.2M627.9 815.5h1.2M627.9 819.5h1.2M627.9 828.5h1.2M627.9 831.5h1.2M627.9 845.5h1.2M627.9 846.5h1.2M628.9 812.5h1.2M628.9 819.5h1.2M628.9 820.5h1.2M628.9 825.5h1.2M628.9 833.5h1.2M629.9 803.5h1.2M629.9 804.5h1.2M629.9 805.5h1.2M629.9 810.5h1.2M629.9 813.5h1.2M629.9 818.5h1.2M630.9 804.5h1.2M630.9 809.5h1.2M630.9 818.5h1.2M630.9 843.5h1.2M631.9 799.5h1.2M632.9 796.5h1.2M632.9 815.5h1.2M632.9 827.5h1.2M634.9 800.5h1.2M634.9 805.5h1.2M634.9 809.5h1.2M635.9 804.5h1.2M635.9 807.5h1.2M635.9 813.5h1.2M636.9 810.5h1.2M636.9 842.5h1.2M637.9 811.5h1.2M637.9 816.5h1.2M637.9 840.5h1.2M637.9 841.5h1.2M638.9 800.5h1.2M638.9 824.5h1.2M638.9 826.5h1.2M639.9 809.5h1.2M639.9 810.5h1.2M640.9 788.5h1.2M644.9 814.5h1.2M645.9 795.5h1.2M646.9 812.5h1.2M646.9 829.5h1.2M647.9 781.5h1.2M647.9 790.5h1.2M648.9 806.5h1.2M648.9 813.5h1.2M649.9 776.5h1.2M651.9 797.5h1.2M651.9 806.5h1.2M652.9 793.5h1.2M653.9 787.5h1.2M654.9 789.5h1.2M654.9 832.5h1.2M655.9 773.5h1.2M656.9 787.5h1.2M657.9 777.5h1.2M657.9 781.5h1.2M657.9 806.5h1.2M658.9 780.5h1.2M658.9 813.5h1.2M660.9 776.5h1.2M661.9 795.5h1.2M661.9 798.5h1.2M661.9 800.5h1.2M663.9 776.5h1.2M663.9 785.5h1.2M663.9 788.5h1.2M664.9 786.5h1.2" stroke="#1f1f1f" stroke-width="1.2" fill="none"/>
<line x1="523.6" y1="917.75" x2="677.15" y2="764.2" stroke="#0000FF" stroke-width="1.75" stroke-dasharray="8.5 3.9"/>
<line x1="523.6" y1="914.68" x2="671.62" y2="779.8" stroke="#FF0000" stroke-width="1.5"/>
<rect x="523.6" y="764.2" width="153.55" height="153.55" fill="none" stroke="#000" stroke-width="1.5"/>
<text x="515.6" y="921.95" font-size="11.2" text-anchor="end" fill="#000" stroke="#000" stroke-width="0.22">1</text>
<text x="523.6" y="935.05" font-size="11.2" text-anchor="middle" fill="#000" stroke="#000" stroke-width="0.22">1</text>
<line x1="523.6" y1="902.39" x2="528.3" y2="902.39" stroke="#000" stroke-width="1.3"/>
<line x1="538.96" y1="917.75" x2="538.96" y2="913.05" stroke="#000" stroke-width="1.3"/>
<line x1="523.6" y1="887.04" x2="528.3" y2="887.04" stroke="#000" stroke-width="1.3"/>
<line x1="554.31" y1="917.75" x2="554.31" y2="913.05" stroke="#000" stroke-width="1.3"/>
<line x1="523.6" y1="871.68" x2="528.3" y2="871.68" stroke="#000" stroke-width="1.3"/>
<line x1="569.66" y1="917.75" x2="569.66" y2="913.05" stroke="#000" stroke-width="1.3"/>
<line x1="523.6" y1="856.33" x2="530.5" y2="856.33" stroke="#000" stroke-width="1.3"/>
<line x1="585.02" y1="917.75" x2="585.02" y2="910.85" stroke="#000" stroke-width="1.3"/>
<text x="515.6" y="860.53" font-size="11.2" text-anchor="end" fill="#000" stroke="#000" stroke-width="0.22">2</text>
<text x="585.02" y="935.05" font-size="11.2" text-anchor="middle" fill="#000" stroke="#000" stroke-width="0.22">2</text>
<line x1="523.6" y1="840.98" x2="528.3" y2="840.98" stroke="#000" stroke-width="1.3"/>
<line x1="600.38" y1="917.75" x2="600.38" y2="913.05" stroke="#000" stroke-width="1.3"/>
<line x1="523.6" y1="825.62" x2="528.3" y2="825.62" stroke="#000" stroke-width="1.3"/>
<line x1="615.73" y1="917.75" x2="615.73" y2="913.05" stroke="#000" stroke-width="1.3"/>
<line x1="523.6" y1="810.26" x2="528.3" y2="810.26" stroke="#000" stroke-width="1.3"/>
<line x1="631.09" y1="917.75" x2="631.09" y2="913.05" stroke="#000" stroke-width="1.3"/>
<line x1="523.6" y1="794.91" x2="530.5" y2="794.91" stroke="#000" stroke-width="1.3"/>
<line x1="646.44" y1="917.75" x2="646.44" y2="910.85" stroke="#000" stroke-width="1.3"/>
<text x="515.6" y="799.11" font-size="11.2" text-anchor="end" fill="#000" stroke="#000" stroke-width="0.22">3</text>
<text x="646.44" y="935.05" font-size="11.2" text-anchor="middle" fill="#000" stroke="#000" stroke-width="0.22">3</text>
<line x1="523.6" y1="779.56" x2="528.3" y2="779.56" stroke="#000" stroke-width="1.3"/>
<line x1="661.8" y1="917.75" x2="661.8" y2="913.05" stroke="#000" stroke-width="1.3"/>
<line x1="677.15" y1="904.29" x2="670.25" y2="904.29" stroke="#000" stroke-width="1.3"/>
<line x1="537.06" y1="764.2" x2="537.06" y2="771.1" stroke="#000" stroke-width="1.3"/>
<text x="685.35" y="908.49" font-size="11.2" text-anchor="start" fill="#000" stroke="#000" stroke-width="0.22">4</text>
<text x="537.06" y="755.2" font-size="11.2" text-anchor="middle" fill="#000" stroke="#000" stroke-width="0.22">4</text>
<line x1="677.15" y1="885.57" x2="672.45" y2="885.57" stroke="#000" stroke-width="1.3"/>
<line x1="555.78" y1="764.2" x2="555.78" y2="768.9" stroke="#000" stroke-width="1.3"/>
<line x1="677.15" y1="866.85" x2="670.25" y2="866.85" stroke="#000" stroke-width="1.3"/>
<line x1="574.5" y1="764.2" x2="574.5" y2="771.1" stroke="#000" stroke-width="1.3"/>
<text x="685.35" y="871.05" font-size="11.2" text-anchor="start" fill="#000" stroke="#000" stroke-width="0.22">6</text>
<text x="574.5" y="755.2" font-size="11.2" text-anchor="middle" fill="#000" stroke="#000" stroke-width="0.22">6</text>
<line x1="677.15" y1="848.12" x2="672.45" y2="848.12" stroke="#000" stroke-width="1.3"/>
<line x1="593.23" y1="764.2" x2="593.23" y2="768.9" stroke="#000" stroke-width="1.3"/>
<line x1="677.15" y1="829.4" x2="670.25" y2="829.4" stroke="#000" stroke-width="1.3"/>
<line x1="611.95" y1="764.2" x2="611.95" y2="771.1" stroke="#000" stroke-width="1.3"/>
<text x="685.35" y="833.6" font-size="11.2" text-anchor="start" fill="#000" stroke="#000" stroke-width="0.22">8</text>
<text x="611.95" y="755.2" font-size="11.2" text-anchor="middle" fill="#000" stroke="#000" stroke-width="0.22">8</text>
<line x1="677.15" y1="810.68" x2="672.45" y2="810.68" stroke="#000" stroke-width="1.3"/>
<line x1="630.67" y1="764.2" x2="630.67" y2="768.9" stroke="#000" stroke-width="1.3"/>
<line x1="677.15" y1="791.96" x2="670.25" y2="791.96" stroke="#000" stroke-width="1.3"/>
<line x1="649.39" y1="764.2" x2="649.39" y2="771.1" stroke="#000" stroke-width="1.3"/>
<text x="685.35" y="796.16" font-size="11.2" text-anchor="start" fill="#000" stroke="#000" stroke-width="0.22">10</text>
<text x="649.39" y="755.2" font-size="11.2" text-anchor="middle" fill="#000" stroke="#000" stroke-width="0.22">10</text>
<line x1="677.15" y1="773.24" x2="672.45" y2="773.24" stroke="#000" stroke-width="1.3"/>
<line x1="668.11" y1="764.2" x2="668.11" y2="768.9" stroke="#000" stroke-width="1.3"/>
<text x="600.38" y="739" font-size="12.5" text-anchor="middle" fill="#000" stroke="#000" stroke-width="0.22">Model Height (kft MSL)</text>
<text x="600.38" y="950.25" font-size="12.5" text-anchor="middle" fill="#000" stroke="#000" stroke-width="0.22">Model Height (km MSL)</text>
<text x="498" y="840.98" font-size="12.5" text-anchor="middle" fill="#000" stroke="#000" stroke-width="0.22" transform="rotate(-90 498 840.98)">Radar Height (km MSL)</text>
<text x="705.25" y="840.98" font-size="12.4" text-anchor="middle" fill="#000" stroke="#000" stroke-width="0.22" transform="rotate(90 705.25 840.98)">Radar Height (kft MSL)</text>
<text x="480.4" y="840.98" font-size="15.15" text-anchor="middle" fill="#0000FF" stroke="#0000FF" stroke-width="0.22" transform="rotate(-90 480.4 840.98)">18-hour Forecast</text>
</g>
<text x="33.5" y="727" font-size="15.2" text-anchor="middle" fill="#0000FF" stroke="#0000FF" stroke-width="0.22" transform="rotate(-90 33.5 727)">Historical Forecast Verification (1-year)</text>
<line x1="729.3" y1="768.1" x2="749.6" y2="768.1" stroke="#0000FF" stroke-width="1.9" stroke-dasharray="7.2 5.6"/>
<text x="753.8" y="772.7" font-size="13.55" text-anchor="start" fill="#000" stroke="#000" stroke-width="0.22">1:1 line</text>
<line x1="729.3" y1="787.9" x2="749.6" y2="787.9" stroke="#FF0000" stroke-width="1.5"/>
<text x="755.4" y="791.5" font-size="13.8" text-anchor="start" fill="#000" stroke="#000" stroke-width="0.22">linear regression</text>
<text x="9.4" y="934.1" font-size="16.65" text-anchor="start" fill="#000" stroke="#000" stroke-width="0.22">Shasta Dam,CA (STD)</text>
<text x="9.4" y="952.5" font-size="13.8" text-anchor="start" fill="#000" stroke="#000" stroke-width="0.22">40.7158 N, 122.4293 W, 202 m</text>
</svg>
</body></html>
